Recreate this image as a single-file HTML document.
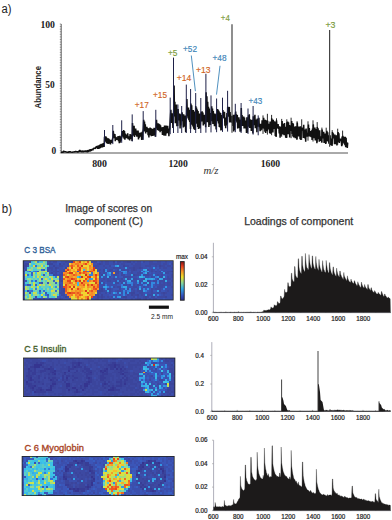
<!DOCTYPE html>
<html><head><meta charset="utf-8"><style>
html,body{margin:0;padding:0;background:#fff;width:392px;height:520px;overflow:hidden}
svg{display:block}
</style></head><body>
<svg width="392" height="520" viewBox="0 0 392 520">
<text x="1.5" y="13" font-size="12.5" fill="#222" font-family='"Liberation Sans", sans-serif' font-weight="normal" text-anchor="start" textLength="10" lengthAdjust="spacingAndGlyphs" >a)</text>
<line x1="61.2" y1="24" x2="61.2" y2="153" stroke="#333" stroke-width="0.8"/>
<path d="M59.8 24.00h1.4M59.8 26.58h1.4M59.8 29.16h1.4M59.8 31.74h1.4M59.8 34.32h1.4M59.8 36.90h1.4M59.8 39.48h1.4M59.8 42.06h1.4M59.8 44.64h1.4M59.8 47.22h1.4M59.8 49.80h1.4M59.8 52.38h1.4M59.8 54.96h1.4M59.8 57.54h1.4M59.8 60.12h1.4M59.8 62.70h1.4M59.8 65.28h1.4M59.8 67.86h1.4M59.8 70.44h1.4M59.8 73.02h1.4M59.8 75.60h1.4M59.8 78.18h1.4M59.8 80.76h1.4M59.8 83.34h1.4M59.8 85.92h1.4M59.8 88.50h1.4M59.8 91.08h1.4M59.8 93.66h1.4M59.8 96.24h1.4M59.8 98.82h1.4M59.8 101.40h1.4M59.8 103.98h1.4M59.8 106.56h1.4M59.8 109.14h1.4M59.8 111.72h1.4M59.8 114.30h1.4M59.8 116.88h1.4M59.8 119.46h1.4M59.8 122.04h1.4M59.8 124.62h1.4M59.8 127.20h1.4M59.8 129.78h1.4M59.8 132.36h1.4M59.8 134.94h1.4M59.8 137.52h1.4M59.8 140.10h1.4M59.8 142.68h1.4M59.8 145.26h1.4M59.8 147.84h1.4M59.8 150.42h1.4M59.8 153.00h1.4" stroke="#555" stroke-width="0.6"/>
<line x1="61" y1="153" x2="348" y2="153" stroke="#555" stroke-width="1"/>
<text x="55" y="28.4" font-size="9.4" fill="#222" font-family='"Liberation Serif", serif' font-weight="bold" text-anchor="end" textLength="14.6" lengthAdjust="spacingAndGlyphs" >100</text>
<text x="54.7" y="87.8" font-size="9.4" fill="#222" font-family='"Liberation Serif", serif' font-weight="bold" text-anchor="end" textLength="9.4" lengthAdjust="spacingAndGlyphs" >50</text>
<text x="56.2" y="153.6" font-size="9.4" fill="#222" font-family='"Liberation Serif", serif' font-weight="bold" text-anchor="end" textLength="4.7" lengthAdjust="spacingAndGlyphs" >0</text>
<text x="99.6" y="167.1" font-size="9.4" fill="#222" font-family='"Liberation Serif", serif' font-weight="bold" text-anchor="middle" textLength="14.8" lengthAdjust="spacingAndGlyphs" >800</text>
<text x="178.1" y="167.1" font-size="9.4" fill="#222" font-family='"Liberation Serif", serif' font-weight="bold" text-anchor="middle" textLength="19.4" lengthAdjust="spacingAndGlyphs" >1200</text>
<text x="270.4" y="167.1" font-size="9.4" fill="#222" font-family='"Liberation Serif", serif' font-weight="bold" text-anchor="middle" textLength="19.4" lengthAdjust="spacingAndGlyphs" >1600</text>
<text x="203.5" y="173.6" font-size="9.5" fill="#333" font-family='"Liberation Serif", serif' font-weight="normal" text-anchor="start" textLength="15" lengthAdjust="spacingAndGlyphs" font-style="italic">m/z</text>
<text x="0" y="0" font-size="9.6" fill="#222" font-family='"Liberation Sans", sans-serif' font-weight="bold" textLength="42.5" lengthAdjust="spacingAndGlyphs" transform="translate(40.6 108.5) rotate(-90)">Abundance</text>
<path d="M61.3 151.6 61.7 152.7 62.1 151.9 62.5 152.6 62.9 151.6 63.3 152.5 63.7 150.7 64.1 152.1 64.5 151.5 64.9 152.1 65.3 151.3 65.7 152.3 66.1 151.6 66.5 152.1 66.9 151.8 67.3 152.6 67.7 152.0 68.1 152.7 68.5 151.5 68.9 152.3 69.3 151.4 69.7 152.5 70.1 151.3 70.5 152.3 70.9 151.8 71.3 152.4 71.7 151.8 72.1 152.6 72.5 151.7 72.9 152.3 73.3 151.5 73.7 152.4 74.1 151.8 74.5 152.0 74.9 151.4 75.3 152.2 75.7 151.1 76.1 152.2 76.5 151.5 76.9 151.9 77.3 151.7 77.7 152.5 78.1 151.2 78.5 152.2 78.9 151.0 79.3 151.1 79.7 150.0 80.1 152.0 80.5 150.5 80.9 151.7 81.3 150.7 81.7 152.3 82.1 150.9 82.5 151.7 82.9 150.6 83.3 152.2 83.7 150.9 84.1 151.6 84.5 151.2 84.9 151.6 85.3 150.5 85.7 152.1 86.1 150.5 86.5 151.5 86.9 151.2 87.3 152.3 87.7 150.1 88.1 152.1 88.5 149.9 88.9 151.7 89.3 150.0 89.7 151.7 90.1 149.1 90.5 151.3 90.9 149.1 91.3 150.8 91.7 149.8 92.1 150.4 92.5 148.6 92.9 150.3 93.3 148.6 93.7 148.6 94.1 147.9 94.5 148.7 94.9 148.1 95.3 148.8 95.7 147.0 96.1 147.8 96.5 146.2 96.9 148.1 97.3 145.9 97.7 149.0 98.1 145.6 98.5 148.8 98.9 145.4 99.3 148.7 99.7 144.7 100.1 148.3 100.5 144.3 100.9 147.7 101.3 143.9 101.7 146.1 102.1 144.5 102.5 147.4 102.9 143.3 103.3 146.8 103.7 143.1 104.1 146.9 104.5 136.8 104.9 138.4 105.3 136.4 105.7 141.7 106.1 136.6 106.5 143.3 106.9 137.9 107.3 143.4 107.7 140.2 108.1 143.9 108.5 138.3 108.9 140.8 109.3 139.4 109.7 143.8 110.1 139.7 110.5 144.4 110.9 139.8 111.3 141.7 111.7 141.0 112.1 142.8 112.5 139.0 112.9 137.8 113.3 130.8 113.7 137.1 114.1 133.7 114.5 138.1 114.9 134.1 115.3 141.1 115.7 137.0 116.1 138.4 116.5 137.8 116.9 139.8 117.3 137.3 117.7 139.5 118.1 136.0 118.5 141.2 118.9 136.6 119.3 143.1 119.7 135.9 120.1 142.6 120.5 136.5 120.9 141.2 121.3 139.4 121.7 134.6 122.1 131.1 122.5 132.5 122.9 132.7 123.3 137.5 123.7 130.0 124.1 138.8 124.5 131.0 124.9 139.6 125.3 133.7 125.7 136.8 126.1 134.5 126.5 138.2 126.9 134.7 127.3 138.0 127.7 133.2 128.1 139.3 128.5 136.9 128.9 138.8 129.3 136.2 129.7 140.4 130.1 134.0 130.5 139.0 130.9 134.6 131.3 139.0 131.7 137.7 132.1 140.9 132.5 123.1 132.9 129.3 133.3 127.4 133.7 135.8 134.1 125.8 134.5 136.9 134.9 131.6 135.3 134.3 135.7 128.5 136.1 134.9 136.5 133.9 136.9 136.6 137.3 130.5 137.7 136.4 138.1 130.5 138.5 139.4 138.9 135.1 139.3 137.7 139.7 132.8 140.1 136.2 140.5 132.5 140.9 136.6 141.3 134.7 141.7 139.9 142.1 131.9 142.5 139.6 142.9 131.8 143.3 128.5 143.7 119.9 144.1 131.4 144.5 121.6 144.9 129.1 145.3 124.2 145.7 133.5 146.1 126.9 146.5 131.3 146.9 126.9 147.3 131.9 147.7 128.1 148.1 135.1 148.5 128.8 148.9 137.4 149.3 128.3 149.7 135.2 150.1 127.6 150.5 133.7 150.9 128.1 151.3 136.1 151.7 130.9 152.1 135.8 152.5 128.7 152.9 135.9 153.3 129.8 153.7 134.2 154.1 127.7 154.5 135.5 154.9 128.0 155.3 136.8 155.7 130.8 156.1 126.6 156.5 119.9 156.9 126.4 157.3 124.4 157.7 130.0 158.1 123.4 158.5 130.7 158.9 123.9 159.3 130.4 159.7 124.4 160.1 132.1 160.5 125.3 160.9 129.8 161.3 127.3 161.7 130.8 162.1 129.5 162.5 134.9 162.9 127.1 163.3 130.9 163.7 129.3 164.1 135.8 164.5 125.5 164.9 134.7 165.3 125.5 165.7 135.8 166.1 125.6 166.5 133.5 166.9 129.4 167.3 131.9 167.7 125.9 168.1 133.3 168.5 128.6 168.9 136.3 169.3 129.2 169.7 129.4 170.1 121.6 170.5 115.2 170.9 109.7 171.3 123.0 171.7 118.8 172.1 122.2 172.5 113.2 172.9 127.9 173.3 117.2 173.7 110.1 174.1 85.6 174.5 116.5 174.9 101.8 175.3 123.2 175.7 104.8 176.1 122.7 176.5 104.4 176.9 126.2 177.3 113.0 177.7 126.1 178.1 109.1 178.5 117.6 178.9 116.7 179.3 120.4 179.7 113.5 180.1 128.6 180.5 114.2 180.9 125.4 181.3 116.0 181.7 121.2 182.1 112.3 182.5 119.5 182.9 117.9 183.3 127.4 183.7 114.3 184.1 123.2 184.5 118.2 184.9 126.6 185.3 115.5 185.7 132.2 186.1 120.5 186.5 115.3 186.9 99.1 187.3 113.0 187.7 108.9 188.1 118.5 188.5 107.4 188.9 120.3 189.3 109.8 189.7 122.0 190.1 114.4 190.5 129.0 190.9 103.5 191.3 112.9 191.7 105.3 192.1 124.7 192.5 111.0 192.9 126.5 193.3 110.1 193.7 128.7 194.1 111.6 194.5 129.8 194.9 114.4 195.3 130.0 195.7 106.1 196.1 119.5 196.5 107.6 196.9 123.8 197.3 109.4 197.7 127.1 198.1 111.0 198.5 129.0 198.9 117.3 199.3 126.6 199.7 113.5 200.1 128.4 200.5 121.8 200.9 119.9 201.3 111.8 201.7 121.5 202.1 111.4 202.5 120.1 202.9 112.6 203.3 125.4 203.7 116.9 204.1 121.5 204.5 114.8 204.9 124.3 205.3 119.0 205.7 127.2 206.1 92.2 206.5 116.0 206.9 96.2 207.3 122.2 207.7 101.7 208.1 118.6 208.5 106.7 208.9 127.1 209.3 108.4 209.7 121.6 210.1 118.2 210.5 125.1 210.9 113.1 211.3 119.3 211.7 106.3 212.1 121.2 212.5 108.4 212.9 123.9 213.3 111.1 213.7 120.0 214.1 119.9 214.5 126.1 214.9 113.6 215.3 122.2 215.7 114.9 216.1 129.4 216.5 113.9 216.9 118.9 217.3 109.1 217.7 121.2 218.1 109.6 218.5 123.5 218.9 110.7 219.3 127.1 219.7 112.2 220.1 127.4 220.5 112.9 220.9 130.4 221.3 114.9 221.7 130.1 222.1 117.9 222.5 115.7 222.9 110.0 223.3 118.3 223.7 112.6 224.1 118.5 224.5 111.7 224.9 125.8 225.3 119.5 225.7 128.3 226.1 117.5 226.5 125.4 226.9 113.1 227.3 124.0 227.7 106.8 228.1 115.3 228.5 109.1 228.9 116.7 229.3 106.9 229.7 122.4 230.1 112.0 230.5 120.9 230.9 117.1 231.3 122.5 231.7 115.9 232.1 122.8 232.5 118.0 232.9 126.0 233.3 114.7 233.7 131.6 234.1 114.8 234.5 130.2 234.9 115.2 235.3 115.4 235.7 111.5 236.1 120.5 236.5 114.4 236.9 122.4 237.3 114.9 237.7 128.6 238.1 119.1 238.5 124.8 238.9 117.3 239.3 127.9 239.7 119.5 240.1 131.8 240.5 120.9 240.9 131.5 241.3 108.1 241.7 122.8 242.1 115.1 242.5 126.0 242.9 117.3 243.3 121.3 243.7 116.5 244.1 128.5 244.5 117.5 244.9 127.0 245.3 121.2 245.7 128.5 246.1 120.6 246.5 133.0 246.9 117.3 247.3 132.6 247.7 122.6 248.1 122.4 248.5 115.3 248.9 126.6 249.3 114.3 249.7 128.0 250.1 119.4 250.5 126.5 250.9 120.5 251.3 130.9 251.7 119.9 252.1 130.6 252.5 120.1 252.9 133.5 253.3 116.2 253.7 125.1 254.1 119.8 254.5 121.9 254.9 114.7 255.3 128.3 255.7 121.7 256.1 124.7 256.5 119.4 256.9 132.2 257.3 118.6 257.7 126.8 258.1 119.2 258.5 124.6 258.9 117.8 259.3 127.2 259.7 123.9 260.1 131.1 260.5 123.8 260.9 130.4 261.3 125.2 261.7 129.7 262.1 120.3 262.5 128.4 262.9 122.4 263.3 127.5 263.7 117.9 264.1 128.6 264.5 120.8 264.9 131.8 265.3 119.8 265.7 133.0 266.1 121.2 266.5 129.6 266.9 120.2 267.3 131.1 267.7 120.9 268.1 129.4 268.5 123.9 268.9 128.3 269.3 125.2 269.7 133.2 270.1 121.5 270.5 133.7 270.9 128.2 271.3 132.9 271.7 118.2 272.1 127.9 272.5 119.4 272.9 132.5 273.3 119.7 273.7 129.0 274.1 121.3 274.5 128.9 274.9 121.6 275.3 135.9 275.7 124.0 276.1 137.0 276.5 120.3 276.9 125.3 277.3 125.0 277.7 128.5 278.1 124.1 278.5 129.0 278.9 127.9 279.3 133.5 279.7 126.3 280.1 137.6 280.5 126.8 280.9 135.9 281.3 127.4 281.7 134.5 282.1 121.1 282.5 132.1 282.9 126.6 283.3 134.5 283.7 123.8 284.1 135.1 284.5 123.1 284.9 132.8 285.3 130.0 285.7 137.7 286.1 126.8 286.5 138.0 286.9 122.3 287.3 130.3 287.7 121.6 288.1 134.2 288.5 122.4 288.9 130.4 289.3 124.9 289.7 137.4 290.1 129.5 290.5 131.0 290.9 125.4 291.3 130.5 291.7 121.1 292.1 134.1 292.5 123.1 292.9 136.5 293.3 123.4 293.7 137.4 294.1 126.5 294.5 132.8 294.9 129.0 295.3 138.2 295.7 126.3 296.1 137.8 296.5 126.4 296.9 139.7 297.3 122.6 297.7 133.1 298.1 129.2 298.5 136.5 298.9 126.6 299.3 135.1 299.7 130.6 300.1 139.3 300.5 126.3 300.9 140.0 301.3 127.6 301.7 130.0 302.1 127.6 302.5 130.6 302.9 129.1 303.3 137.9 303.7 124.8 304.1 135.4 304.5 131.9 304.9 138.5 305.3 129.6 305.7 141.8 306.1 128.6 306.5 135.5 306.9 132.9 307.3 136.7 307.7 134.9 308.1 132.6 308.5 124.5 308.9 136.4 309.3 128.0 309.7 135.5 310.1 132.8 310.5 136.6 310.9 131.1 311.3 137.3 311.7 130.2 312.1 139.9 312.5 128.5 312.9 138.3 313.3 124.4 313.7 131.4 314.1 128.9 314.5 138.3 314.9 127.4 315.3 140.4 315.7 131.6 316.1 138.5 316.5 129.1 316.9 143.3 317.3 126.9 317.7 134.7 318.1 128.3 318.5 139.3 318.9 131.2 319.3 141.8 319.7 130.3 320.1 141.0 320.5 136.4 320.9 140.4 321.3 136.3 321.7 142.4 322.1 129.6 322.5 138.4 322.9 134.9 323.3 138.1 323.7 131.7 324.1 143.0 324.5 133.5 324.9 140.6 325.3 133.5 325.7 144.0 326.1 135.7 326.5 134.6 326.9 130.9 327.3 141.2 327.7 132.4 328.1 141.5 328.5 135.3 328.9 143.8 329.3 136.9 329.7 141.3 330.1 135.3 330.5 145.2 330.9 139.5 331.3 145.2 331.7 138.5 332.1 145.9 332.5 132.1 332.9 138.2 333.3 133.4 333.7 138.5 334.1 135.3 334.5 144.2 334.9 134.6 335.3 144.1 335.7 137.6 336.1 141.0 336.5 135.2 336.9 145.4 337.3 135.8 337.7 135.2 338.1 132.0 338.5 142.1 338.9 133.3 339.3 142.9 339.7 138.8 340.1 141.0 340.5 138.5 340.9 140.9 341.3 140.7 341.7 146.1 342.1 136.6 342.5 142.5 342.9 135.8 343.3 142.7 343.7 137.0 344.1 143.6 344.5 136.7 344.9 145.2 345.3 136.7 345.7 147.1 346.1 137.7 346.5 146.7 346.9 142.4 347.3 148.0 347.7 142.7" fill="none" stroke="#111" stroke-width="1.5" stroke-linejoin="bevel"/>
<path d="M104.5 145.9V130M112.8 144.1V125M121.7 142.8V120.3M132.2 141.5V114.4M143.2 139.9V111.1M155.8 136.9V109.8M170.2 134.2V97.6M173.5 133.0V57.6M177.9 133.0V104.5M181.7 133.0V106M186.3 133.0V84.6M190.6 133.0V89M195.7 133.0V93M200.8 133.0V98M205.9 132.7V73.8M211 132.4V95.4M216.6 132.2V98.5M222.5 131.9V97.7M227.6 131.6V90.8M235.3 132.2V103.8M241.1 133.0V103M248 133.9V108.5M253.1 134.6V106M258.2 135.3V115.4" stroke="#1e2048" stroke-width="1"/>
<path d="M263.0 133.9V115.4M267.4 134.6V113.8M271.6 135.2V114.9M276.5 136.0V118.3M281.7 136.8V118.9M286.8 137.5V119.3M291.1 138.2V117.7M297.1 139.1V121.2M301.7 139.8V119.3M308.0 140.7V121.3M313.0 141.5V120.3M317.2 142.1V122.1M321.9 142.7V127.6M326.2 143.3V127.7M332.2 144.1V130.1M337.7 144.8V128.7M342.6 145.4V130.6" stroke="#111" stroke-width="0.9"/>
<line x1="232.0" y1="24.2" x2="232.0" y2="132.76666666666668" stroke="#444" stroke-width="1.2"/>
<line x1="329.6" y1="29.9" x2="329.6" y2="146.74444444444444" stroke="#444" stroke-width="1.2"/>
<text x="220.8" y="21.4" font-size="8.5" fill="#7a9a3a" font-family='"Liberation Sans", sans-serif' font-weight="normal" text-anchor="start" textLength="9" lengthAdjust="spacingAndGlyphs" stroke="#7a9a3a" stroke-width="0.15" >+4</text>
<text x="325.5" y="28.4" font-size="8.5" fill="#7a9a3a" font-family='"Liberation Sans", sans-serif' font-weight="normal" text-anchor="start" textLength="10" lengthAdjust="spacingAndGlyphs" stroke="#7a9a3a" stroke-width="0.15" >+3</text>
<text x="168" y="55.5" font-size="8.5" fill="#7a9a3a" font-family='"Liberation Sans", sans-serif' font-weight="normal" text-anchor="start" textLength="9.5" lengthAdjust="spacingAndGlyphs" stroke="#7a9a3a" stroke-width="0.15" >+5</text>
<text x="183" y="51.7" font-size="8.5" fill="#3c84b8" font-family='"Liberation Sans", sans-serif' font-weight="normal" text-anchor="start" textLength="14" lengthAdjust="spacingAndGlyphs" stroke="#3c84b8" stroke-width="0.15" >+52</text>
<text x="212.5" y="61" font-size="8.5" fill="#3c84b8" font-family='"Liberation Sans", sans-serif' font-weight="normal" text-anchor="start" textLength="14" lengthAdjust="spacingAndGlyphs" stroke="#3c84b8" stroke-width="0.15" >+48</text>
<text x="248.5" y="103.8" font-size="8.5" fill="#3c84b8" font-family='"Liberation Sans", sans-serif' font-weight="normal" text-anchor="start" textLength="13.7" lengthAdjust="spacingAndGlyphs" stroke="#3c84b8" stroke-width="0.15" >+43</text>
<text x="176.8" y="80.5" font-size="8.5" fill="#d0641e" font-family='"Liberation Sans", sans-serif' font-weight="normal" text-anchor="start" textLength="14.5" lengthAdjust="spacingAndGlyphs" stroke="#d0641e" stroke-width="0.15" >+14</text>
<text x="196" y="72.9" font-size="8.5" fill="#d0641e" font-family='"Liberation Sans", sans-serif' font-weight="normal" text-anchor="start" textLength="14.5" lengthAdjust="spacingAndGlyphs" stroke="#d0641e" stroke-width="0.15" >+13</text>
<text x="153" y="98" font-size="8.5" fill="#d0641e" font-family='"Liberation Sans", sans-serif' font-weight="normal" text-anchor="start" textLength="14" lengthAdjust="spacingAndGlyphs" stroke="#d0641e" stroke-width="0.15" >+15</text>
<text x="134.8" y="108" font-size="8.5" fill="#d0641e" font-family='"Liberation Sans", sans-serif' font-weight="normal" text-anchor="start" textLength="14" lengthAdjust="spacingAndGlyphs" stroke="#d0641e" stroke-width="0.15" >+17</text>
<line x1="191.3" y1="55.5" x2="195.4" y2="91.2" stroke="#3c84b8" stroke-width="0.9"/>
<line x1="220" y1="65.8" x2="216.5" y2="94.6" stroke="#3c84b8" stroke-width="0.9"/>
<defs><filter id="bl" x="-2%" y="-5%" width="104%" height="110%"><feGaussianBlur stdDeviation="0.6"/></filter></defs>
<text x="1.8" y="213" font-size="12.5" fill="#222" font-family='"Liberation Sans", sans-serif' font-weight="normal" text-anchor="start" textLength="10.2" lengthAdjust="spacingAndGlyphs" >b)</text>
<text x="65.2" y="212.1" font-size="10.2" fill="#333" font-family='"Liberation Sans", sans-serif' font-weight="normal" text-anchor="start" textLength="87" lengthAdjust="spacingAndGlyphs" stroke="#333" stroke-width="0.25" >Image of scores on</text>
<text x="74.6" y="225" font-size="10.2" fill="#333" font-family='"Liberation Sans", sans-serif' font-weight="normal" text-anchor="start" textLength="68.3" lengthAdjust="spacingAndGlyphs" stroke="#333" stroke-width="0.25" >component (C)</text>
<text x="244.2" y="224.6" font-size="10.2" fill="#333" font-family='"Liberation Sans", sans-serif' font-weight="normal" text-anchor="start" textLength="109" lengthAdjust="spacingAndGlyphs" stroke="#333" stroke-width="0.25" >Loadings of component</text>
<text x="24.2" y="252.9" font-size="9.6" fill="#2f5f98" font-family='"Liberation Sans", sans-serif' font-weight="normal" text-anchor="start" textLength="31.4" lengthAdjust="spacingAndGlyphs" stroke="#2f5f98" stroke-width="0.35" >C 3 BSA</text>
<text x="24.2" y="351.8" font-size="9.8" fill="#46602c" font-family='"Liberation Sans", sans-serif' font-weight="normal" text-anchor="start" textLength="42.2" lengthAdjust="spacingAndGlyphs" stroke="#46602c" stroke-width="0.35" >C 5 Insulin</text>
<text x="24.5" y="450.9" font-size="9.8" fill="#a8431f" font-family='"Liberation Sans", sans-serif' font-weight="normal" text-anchor="start" textLength="59.4" lengthAdjust="spacingAndGlyphs" stroke="#a8431f" stroke-width="0.35" >C 6 Myoglobin</text>
<g filter="url(#bl)"><g transform="translate(23.2 260.7) scale(2.0000 1.9650)" shape-rendering="crispEdges"><path fill="rgb(58, 68, 156)" d="M24 0h1v1h-1zM45 0h1v1h-1zM52 0h1v1h-1zM53 0h1v1h-1zM1 1h1v1h-1zM2 1h1v1h-1zM13 1h1v1h-1zM14 1h1v1h-1zM18 1h1v1h-1zM38 1h1v1h-1zM0 2h1v1h-1zM1 2h1v1h-1zM15 2h1v1h-1zM50 2h1v1h-1zM68 2h1v1h-1zM0 3h1v1h-1zM16 3h1v1h-1zM21 3h1v1h-1zM55 3h1v1h-1zM58 3h1v1h-1zM40 4h1v1h-1zM55 4h1v1h-1zM17 5h1v1h-1zM40 5h1v1h-1zM74 5h1v1h-1zM14 6h1v1h-1zM15 7h1v1h-1zM39 7h1v1h-1zM55 7h1v1h-1zM19 10h1v1h-1zM38 11h1v1h-1zM20 14h1v1h-1zM39 14h1v1h-1zM20 15h1v1h-1zM38 15h1v1h-1zM39 15h1v1h-1zM54 16h1v1h-1zM55 16h1v1h-1zM70 16h1v1h-1zM37 17h1v1h-1zM39 17h1v1h-1zM54 17h1v1h-1zM57 17h1v1h-1zM21 18h1v1h-1zM37 18h1v1h-1zM39 18h1v1h-1zM50 18h1v1h-1zM51 18h1v1h-1zM61 18h1v1h-1zM71 18h1v1h-1zM10 19h1v1h-1zM16 19h1v1h-1zM18 19h1v1h-1zM37 19h1v1h-1zM57 19h1v1h-1zM58 19h1v1h-1zM61 19h1v1h-1z"/><path fill="rgb(60, 74, 162)" d="M0 0h1v1h-1zM3 0h1v1h-1zM13 0h1v1h-1zM15 0h1v1h-1zM16 0h1v1h-1zM21 0h1v1h-1zM22 0h1v1h-1zM23 0h1v1h-1zM34 0h1v1h-1zM35 0h1v1h-1zM36 0h1v1h-1zM39 0h1v1h-1zM41 0h1v1h-1zM42 0h1v1h-1zM47 0h1v1h-1zM48 0h1v1h-1zM50 0h1v1h-1zM51 0h1v1h-1zM55 0h1v1h-1zM57 0h1v1h-1zM58 0h1v1h-1zM60 0h1v1h-1zM63 0h1v1h-1zM64 0h1v1h-1zM67 0h1v1h-1zM68 0h1v1h-1zM71 0h1v1h-1zM0 1h1v1h-1zM12 1h1v1h-1zM20 1h1v1h-1zM22 1h1v1h-1zM37 1h1v1h-1zM39 1h1v1h-1zM41 1h1v1h-1zM42 1h1v1h-1zM45 1h1v1h-1zM47 1h1v1h-1zM49 1h1v1h-1zM50 1h1v1h-1zM54 1h1v1h-1zM56 1h1v1h-1zM57 1h1v1h-1zM58 1h1v1h-1zM63 1h1v1h-1zM64 1h1v1h-1zM65 1h1v1h-1zM66 1h1v1h-1zM67 1h1v1h-1zM68 1h1v1h-1zM70 1h1v1h-1zM71 1h1v1h-1zM74 1h1v1h-1zM18 2h1v1h-1zM19 2h1v1h-1zM22 2h1v1h-1zM35 2h1v1h-1zM36 2h1v1h-1zM37 2h1v1h-1zM40 2h1v1h-1zM43 2h1v1h-1zM51 2h1v1h-1zM52 2h1v1h-1zM55 2h1v1h-1zM56 2h1v1h-1zM57 2h1v1h-1zM58 2h1v1h-1zM61 2h1v1h-1zM62 2h1v1h-1zM63 2h1v1h-1zM66 2h1v1h-1zM69 2h1v1h-1zM70 2h1v1h-1zM72 2h1v1h-1zM73 2h1v1h-1zM13 3h1v1h-1zM14 3h1v1h-1zM17 3h1v1h-1zM36 3h1v1h-1zM41 3h1v1h-1zM45 3h1v1h-1zM46 3h1v1h-1zM47 3h1v1h-1zM48 3h1v1h-1zM53 3h1v1h-1zM54 3h1v1h-1zM56 3h1v1h-1zM57 3h1v1h-1zM59 3h1v1h-1zM68 3h1v1h-1zM70 3h1v1h-1zM71 3h1v1h-1zM74 3h1v1h-1zM1 4h1v1h-1zM12 4h1v1h-1zM14 4h1v1h-1zM16 4h1v1h-1zM20 4h1v1h-1zM38 4h1v1h-1zM43 4h1v1h-1zM44 4h1v1h-1zM47 4h1v1h-1zM49 4h1v1h-1zM50 4h1v1h-1zM52 4h1v1h-1zM54 4h1v1h-1zM56 4h1v1h-1zM62 4h1v1h-1zM64 4h1v1h-1zM0 5h1v1h-1zM12 5h1v1h-1zM15 5h1v1h-1zM16 5h1v1h-1zM20 5h1v1h-1zM42 5h1v1h-1zM43 5h1v1h-1zM45 5h1v1h-1zM46 5h1v1h-1zM47 5h1v1h-1zM52 5h1v1h-1zM54 5h1v1h-1zM58 5h1v1h-1zM64 5h1v1h-1zM66 5h1v1h-1zM68 5h1v1h-1zM72 5h1v1h-1zM73 5h1v1h-1zM16 6h1v1h-1zM19 6h1v1h-1zM38 6h1v1h-1zM40 6h1v1h-1zM46 6h1v1h-1zM47 6h1v1h-1zM49 6h1v1h-1zM54 6h1v1h-1zM57 6h1v1h-1zM58 6h1v1h-1zM62 6h1v1h-1zM71 6h1v1h-1zM72 6h1v1h-1zM16 7h1v1h-1zM18 7h1v1h-1zM19 7h1v1h-1zM45 7h1v1h-1zM46 7h1v1h-1zM49 7h1v1h-1zM50 7h1v1h-1zM56 7h1v1h-1zM57 7h1v1h-1zM60 7h1v1h-1zM61 7h1v1h-1zM62 7h1v1h-1zM67 7h1v1h-1zM69 7h1v1h-1zM74 7h1v1h-1zM0 8h1v1h-1zM18 8h1v1h-1zM38 8h1v1h-1zM43 8h1v1h-1zM50 8h1v1h-1zM51 8h1v1h-1zM52 8h1v1h-1zM53 8h1v1h-1zM64 8h1v1h-1zM68 8h1v1h-1zM69 8h1v1h-1zM72 8h1v1h-1zM74 8h1v1h-1zM0 9h1v1h-1zM18 9h1v1h-1zM40 9h1v1h-1zM42 9h1v1h-1zM45 9h1v1h-1zM49 9h1v1h-1zM52 9h1v1h-1zM55 9h1v1h-1zM56 9h1v1h-1zM60 9h1v1h-1zM67 9h1v1h-1zM70 9h1v1h-1zM72 9h1v1h-1zM73 9h1v1h-1zM0 10h1v1h-1zM18 10h1v1h-1zM39 10h1v1h-1zM42 10h1v1h-1zM43 10h1v1h-1zM46 10h1v1h-1zM48 10h1v1h-1zM50 10h1v1h-1zM58 10h1v1h-1zM62 10h1v1h-1zM63 10h1v1h-1zM65 10h1v1h-1zM66 10h1v1h-1zM68 10h1v1h-1zM69 10h1v1h-1zM70 10h1v1h-1zM74 10h1v1h-1zM40 11h1v1h-1zM46 11h1v1h-1zM47 11h1v1h-1zM49 11h1v1h-1zM58 11h1v1h-1zM60 11h1v1h-1zM63 11h1v1h-1zM68 11h1v1h-1zM70 11h1v1h-1zM72 11h1v1h-1zM73 11h1v1h-1zM18 12h1v1h-1zM40 12h1v1h-1zM50 12h1v1h-1zM51 12h1v1h-1zM53 12h1v1h-1zM55 12h1v1h-1zM57 12h1v1h-1zM62 12h1v1h-1zM68 12h1v1h-1zM69 12h1v1h-1zM70 12h1v1h-1zM72 12h1v1h-1zM73 12h1v1h-1zM18 13h1v1h-1zM45 13h1v1h-1zM47 13h1v1h-1zM48 13h1v1h-1zM55 13h1v1h-1zM56 13h1v1h-1zM60 13h1v1h-1zM67 13h1v1h-1zM68 13h1v1h-1zM69 13h1v1h-1zM74 13h1v1h-1zM0 14h1v1h-1zM19 14h1v1h-1zM38 14h1v1h-1zM42 14h1v1h-1zM43 14h1v1h-1zM48 14h1v1h-1zM52 14h1v1h-1zM54 14h1v1h-1zM57 14h1v1h-1zM64 14h1v1h-1zM66 14h1v1h-1zM67 14h1v1h-1zM68 14h1v1h-1zM0 15h1v1h-1zM19 15h1v1h-1zM37 15h1v1h-1zM40 15h1v1h-1zM43 15h1v1h-1zM47 15h1v1h-1zM48 15h1v1h-1zM55 15h1v1h-1zM57 15h1v1h-1zM58 15h1v1h-1zM59 15h1v1h-1zM64 15h1v1h-1zM68 15h1v1h-1zM72 15h1v1h-1zM0 16h1v1h-1zM18 16h1v1h-1zM19 16h1v1h-1zM20 16h1v1h-1zM37 16h1v1h-1zM38 16h1v1h-1zM41 16h1v1h-1zM43 16h1v1h-1zM51 16h1v1h-1zM53 16h1v1h-1zM58 16h1v1h-1zM59 16h1v1h-1zM64 16h1v1h-1zM67 16h1v1h-1zM69 16h1v1h-1zM71 16h1v1h-1zM0 17h1v1h-1zM19 17h1v1h-1zM20 17h1v1h-1zM36 17h1v1h-1zM52 17h1v1h-1zM55 17h1v1h-1zM56 17h1v1h-1zM59 17h1v1h-1zM62 17h1v1h-1zM63 17h1v1h-1zM64 17h1v1h-1zM70 17h1v1h-1zM74 17h1v1h-1zM22 18h1v1h-1zM38 18h1v1h-1zM40 18h1v1h-1zM42 18h1v1h-1zM44 18h1v1h-1zM49 18h1v1h-1zM55 18h1v1h-1zM57 18h1v1h-1zM60 18h1v1h-1zM62 18h1v1h-1zM64 18h1v1h-1zM65 18h1v1h-1zM67 18h1v1h-1zM68 18h1v1h-1zM69 18h1v1h-1zM70 18h1v1h-1zM0 19h1v1h-1zM8 19h1v1h-1zM13 19h1v1h-1zM14 19h1v1h-1zM17 19h1v1h-1zM19 19h1v1h-1zM23 19h1v1h-1zM36 19h1v1h-1zM39 19h1v1h-1zM43 19h1v1h-1zM45 19h1v1h-1zM47 19h1v1h-1zM51 19h1v1h-1zM54 19h1v1h-1zM56 19h1v1h-1zM60 19h1v1h-1zM63 19h1v1h-1zM65 19h1v1h-1zM66 19h1v1h-1z"/><path fill="rgb(59, 80, 173)" d="M1 0h1v1h-1zM2 0h1v1h-1zM12 0h1v1h-1zM14 0h1v1h-1zM19 0h1v1h-1zM20 0h1v1h-1zM38 0h1v1h-1zM40 0h1v1h-1zM43 0h1v1h-1zM44 0h1v1h-1zM49 0h1v1h-1zM54 0h1v1h-1zM56 0h1v1h-1zM61 0h1v1h-1zM62 0h1v1h-1zM65 0h1v1h-1zM66 0h1v1h-1zM69 0h1v1h-1zM70 0h1v1h-1zM72 0h1v1h-1zM73 0h1v1h-1zM74 0h1v1h-1zM15 1h1v1h-1zM16 1h1v1h-1zM19 1h1v1h-1zM21 1h1v1h-1zM35 1h1v1h-1zM36 1h1v1h-1zM40 1h1v1h-1zM43 1h1v1h-1zM44 1h1v1h-1zM46 1h1v1h-1zM48 1h1v1h-1zM51 1h1v1h-1zM52 1h1v1h-1zM53 1h1v1h-1zM55 1h1v1h-1zM59 1h1v1h-1zM60 1h1v1h-1zM61 1h1v1h-1zM62 1h1v1h-1zM69 1h1v1h-1zM72 1h1v1h-1zM2 2h1v1h-1zM13 2h1v1h-1zM14 2h1v1h-1zM16 2h1v1h-1zM17 2h1v1h-1zM20 2h1v1h-1zM21 2h1v1h-1zM38 2h1v1h-1zM39 2h1v1h-1zM41 2h1v1h-1zM42 2h1v1h-1zM48 2h1v1h-1zM49 2h1v1h-1zM53 2h1v1h-1zM54 2h1v1h-1zM59 2h1v1h-1zM60 2h1v1h-1zM64 2h1v1h-1zM65 2h1v1h-1zM67 2h1v1h-1zM71 2h1v1h-1zM74 2h1v1h-1zM1 3h1v1h-1zM12 3h1v1h-1zM15 3h1v1h-1zM18 3h1v1h-1zM19 3h1v1h-1zM37 3h1v1h-1zM38 3h1v1h-1zM39 3h1v1h-1zM40 3h1v1h-1zM42 3h1v1h-1zM43 3h1v1h-1zM44 3h1v1h-1zM49 3h1v1h-1zM50 3h1v1h-1zM52 3h1v1h-1zM60 3h1v1h-1zM61 3h1v1h-1zM63 3h1v1h-1zM64 3h1v1h-1zM66 3h1v1h-1zM69 3h1v1h-1zM72 3h1v1h-1zM73 3h1v1h-1zM0 4h1v1h-1zM13 4h1v1h-1zM15 4h1v1h-1zM18 4h1v1h-1zM19 4h1v1h-1zM37 4h1v1h-1zM39 4h1v1h-1zM42 4h1v1h-1zM46 4h1v1h-1zM51 4h1v1h-1zM53 4h1v1h-1zM57 4h1v1h-1zM58 4h1v1h-1zM63 4h1v1h-1zM65 4h1v1h-1zM67 4h1v1h-1zM69 4h1v1h-1zM70 4h1v1h-1zM71 4h1v1h-1zM72 4h1v1h-1zM73 4h1v1h-1zM74 4h1v1h-1zM13 5h1v1h-1zM14 5h1v1h-1zM18 5h1v1h-1zM19 5h1v1h-1zM38 5h1v1h-1zM39 5h1v1h-1zM44 5h1v1h-1zM48 5h1v1h-1zM55 5h1v1h-1zM56 5h1v1h-1zM57 5h1v1h-1zM63 5h1v1h-1zM65 5h1v1h-1zM67 5h1v1h-1zM70 5h1v1h-1zM71 5h1v1h-1zM13 6h1v1h-1zM15 6h1v1h-1zM18 6h1v1h-1zM39 6h1v1h-1zM41 6h1v1h-1zM44 6h1v1h-1zM52 6h1v1h-1zM53 6h1v1h-1zM55 6h1v1h-1zM56 6h1v1h-1zM59 6h1v1h-1zM64 6h1v1h-1zM66 6h1v1h-1zM67 6h1v1h-1zM68 6h1v1h-1zM69 6h1v1h-1zM73 6h1v1h-1zM74 6h1v1h-1zM0 7h1v1h-1zM17 7h1v1h-1zM38 7h1v1h-1zM41 7h1v1h-1zM44 7h1v1h-1zM47 7h1v1h-1zM52 7h1v1h-1zM53 7h1v1h-1zM58 7h1v1h-1zM63 7h1v1h-1zM64 7h1v1h-1zM66 7h1v1h-1zM68 7h1v1h-1zM72 7h1v1h-1zM73 7h1v1h-1zM19 8h1v1h-1zM40 8h1v1h-1zM41 8h1v1h-1zM45 8h1v1h-1zM47 8h1v1h-1zM54 8h1v1h-1zM55 8h1v1h-1zM56 8h1v1h-1zM61 8h1v1h-1zM62 8h1v1h-1zM65 8h1v1h-1zM73 8h1v1h-1zM19 9h1v1h-1zM38 9h1v1h-1zM39 9h1v1h-1zM41 9h1v1h-1zM43 9h1v1h-1zM44 9h1v1h-1zM46 9h1v1h-1zM47 9h1v1h-1zM48 9h1v1h-1zM53 9h1v1h-1zM57 9h1v1h-1zM59 9h1v1h-1zM71 9h1v1h-1zM74 9h1v1h-1zM38 10h1v1h-1zM40 10h1v1h-1zM41 10h1v1h-1zM44 10h1v1h-1zM45 10h1v1h-1zM49 10h1v1h-1zM54 10h1v1h-1zM55 10h1v1h-1zM56 10h1v1h-1zM59 10h1v1h-1zM72 10h1v1h-1zM73 10h1v1h-1zM0 11h1v1h-1zM9 11h1v1h-1zM18 11h1v1h-1zM19 11h1v1h-1zM42 11h1v1h-1zM43 11h1v1h-1zM44 11h1v1h-1zM51 11h1v1h-1zM55 11h1v1h-1zM56 11h1v1h-1zM61 11h1v1h-1zM66 11h1v1h-1zM69 11h1v1h-1zM71 11h1v1h-1zM74 11h1v1h-1zM0 12h1v1h-1zM19 12h1v1h-1zM38 12h1v1h-1zM39 12h1v1h-1zM42 12h1v1h-1zM43 12h1v1h-1zM44 12h1v1h-1zM45 12h1v1h-1zM46 12h1v1h-1zM52 12h1v1h-1zM56 12h1v1h-1zM58 12h1v1h-1zM59 12h1v1h-1zM63 12h1v1h-1zM66 12h1v1h-1zM67 12h1v1h-1zM71 12h1v1h-1zM74 12h1v1h-1zM19 13h1v1h-1zM38 13h1v1h-1zM39 13h1v1h-1zM46 13h1v1h-1zM52 13h1v1h-1zM53 13h1v1h-1zM54 13h1v1h-1zM57 13h1v1h-1zM61 13h1v1h-1zM62 13h1v1h-1zM65 13h1v1h-1zM70 13h1v1h-1zM72 13h1v1h-1zM73 13h1v1h-1zM18 14h1v1h-1zM40 14h1v1h-1zM44 14h1v1h-1zM55 14h1v1h-1zM59 14h1v1h-1zM65 14h1v1h-1zM69 14h1v1h-1zM71 14h1v1h-1zM72 14h1v1h-1zM73 14h1v1h-1zM74 14h1v1h-1zM2 15h1v1h-1zM18 15h1v1h-1zM41 15h1v1h-1zM44 15h1v1h-1zM46 15h1v1h-1zM49 15h1v1h-1zM54 15h1v1h-1zM56 15h1v1h-1zM63 15h1v1h-1zM71 15h1v1h-1zM73 15h1v1h-1zM74 15h1v1h-1zM3 16h1v1h-1zM39 16h1v1h-1zM40 16h1v1h-1zM47 16h1v1h-1zM49 16h1v1h-1zM56 16h1v1h-1zM57 16h1v1h-1zM60 16h1v1h-1zM62 16h1v1h-1zM63 16h1v1h-1zM65 16h1v1h-1zM66 16h1v1h-1zM68 16h1v1h-1zM72 16h1v1h-1zM73 16h1v1h-1zM74 16h1v1h-1zM38 17h1v1h-1zM40 17h1v1h-1zM41 17h1v1h-1zM42 17h1v1h-1zM45 17h1v1h-1zM46 17h1v1h-1zM48 17h1v1h-1zM53 17h1v1h-1zM58 17h1v1h-1zM60 17h1v1h-1zM66 17h1v1h-1zM69 17h1v1h-1zM71 17h1v1h-1zM72 17h1v1h-1zM73 17h1v1h-1zM6 18h1v1h-1zM18 18h1v1h-1zM20 18h1v1h-1zM35 18h1v1h-1zM36 18h1v1h-1zM41 18h1v1h-1zM43 18h1v1h-1zM46 18h1v1h-1zM52 18h1v1h-1zM53 18h1v1h-1zM54 18h1v1h-1zM58 18h1v1h-1zM59 18h1v1h-1zM72 18h1v1h-1zM73 18h1v1h-1zM74 18h1v1h-1zM5 19h1v1h-1zM6 19h1v1h-1zM7 19h1v1h-1zM9 19h1v1h-1zM11 19h1v1h-1zM12 19h1v1h-1zM15 19h1v1h-1zM20 19h1v1h-1zM21 19h1v1h-1zM22 19h1v1h-1zM34 19h1v1h-1zM35 19h1v1h-1zM38 19h1v1h-1zM40 19h1v1h-1zM41 19h1v1h-1zM42 19h1v1h-1zM44 19h1v1h-1zM46 19h1v1h-1zM48 19h1v1h-1zM49 19h1v1h-1zM50 19h1v1h-1zM52 19h1v1h-1zM53 19h1v1h-1zM55 19h1v1h-1zM59 19h1v1h-1zM62 19h1v1h-1zM64 19h1v1h-1zM67 19h1v1h-1zM68 19h1v1h-1zM69 19h1v1h-1zM71 19h1v1h-1zM72 19h1v1h-1zM73 19h1v1h-1zM74 19h1v1h-1z"/><path fill="rgb(58, 87, 184)" d="M17 0h1v1h-1zM18 0h1v1h-1zM37 0h1v1h-1zM46 0h1v1h-1zM59 0h1v1h-1zM17 1h1v1h-1zM73 1h1v1h-1zM44 2h1v1h-1zM45 2h1v1h-1zM20 3h1v1h-1zM62 3h1v1h-1zM67 3h1v1h-1zM10 4h1v1h-1zM17 4h1v1h-1zM45 4h1v1h-1zM59 4h1v1h-1zM66 4h1v1h-1zM68 4h1v1h-1zM7 5h1v1h-1zM37 5h1v1h-1zM53 5h1v1h-1zM60 5h1v1h-1zM0 6h1v1h-1zM17 6h1v1h-1zM48 6h1v1h-1zM63 6h1v1h-1zM65 6h1v1h-1zM10 7h1v1h-1zM48 7h1v1h-1zM51 7h1v1h-1zM70 7h1v1h-1zM71 7h1v1h-1zM44 8h1v1h-1zM48 8h1v1h-1zM49 8h1v1h-1zM57 8h1v1h-1zM63 8h1v1h-1zM71 8h1v1h-1zM50 9h1v1h-1zM58 9h1v1h-1zM66 9h1v1h-1zM1 10h1v1h-1zM51 10h1v1h-1zM64 10h1v1h-1zM12 11h1v1h-1zM41 11h1v1h-1zM48 11h1v1h-1zM2 12h1v1h-1zM47 12h1v1h-1zM48 12h1v1h-1zM65 12h1v1h-1zM0 13h1v1h-1zM43 13h1v1h-1zM59 13h1v1h-1zM63 13h1v1h-1zM66 13h1v1h-1zM45 14h1v1h-1zM46 14h1v1h-1zM47 14h1v1h-1zM49 14h1v1h-1zM50 14h1v1h-1zM56 14h1v1h-1zM61 14h1v1h-1zM63 14h1v1h-1zM8 15h1v1h-1zM45 15h1v1h-1zM51 15h1v1h-1zM62 15h1v1h-1zM65 15h1v1h-1zM66 15h1v1h-1zM69 15h1v1h-1zM70 15h1v1h-1zM11 16h1v1h-1zM42 16h1v1h-1zM44 16h1v1h-1zM61 16h1v1h-1zM12 17h1v1h-1zM18 17h1v1h-1zM21 17h1v1h-1zM43 17h1v1h-1zM44 17h1v1h-1zM47 17h1v1h-1zM49 17h1v1h-1zM51 17h1v1h-1zM68 17h1v1h-1zM0 18h1v1h-1zM17 18h1v1h-1zM19 18h1v1h-1zM56 18h1v1h-1zM63 18h1v1h-1zM66 18h1v1h-1zM70 19h1v1h-1z"/><path fill="rgb(56, 94, 194)" d="M4 6h1v1h-1zM6 10h1v1h-1zM8 11h1v1h-1zM16 11h1v1h-1zM3 12h1v1h-1zM6 12h1v1h-1z"/><path fill="rgb(55, 100, 205)" d="M9 4h1v1h-1zM3 5h1v1h-1zM27 5h1v1h-1zM4 7h1v1h-1zM9 9h1v1h-1zM15 10h1v1h-1z"/><path fill="rgb(54, 112, 211)" d="M6 2h1v1h-1zM6 5h1v1h-1zM34 6h1v1h-1zM2 7h1v1h-1zM16 8h1v1h-1zM4 15h1v1h-1zM10 15h1v1h-1zM16 15h1v1h-1zM11 17h1v1h-1zM12 18h1v1h-1z"/><path fill="rgb(52, 125, 218)" d="M5 5h1v1h-1zM32 5h1v1h-1zM49 5h1v1h-1zM51 6h1v1h-1zM13 7h1v1h-1zM14 7h1v1h-1zM34 7h1v1h-1zM42 7h1v1h-1zM66 8h1v1h-1zM4 10h1v1h-1zM67 10h1v1h-1zM54 11h1v1h-1zM41 12h1v1h-1zM49 12h1v1h-1zM54 12h1v1h-1zM60 12h1v1h-1zM42 13h1v1h-1zM44 13h1v1h-1zM6 14h1v1h-1zM70 14h1v1h-1zM3 15h1v1h-1zM52 15h1v1h-1zM61 15h1v1h-1zM8 16h1v1h-1zM46 16h1v1h-1zM67 17h1v1h-1zM9 18h1v1h-1z"/><path fill="rgb(51, 138, 224)" d="M7 0h1v1h-1zM41 4h1v1h-1zM48 4h1v1h-1zM2 5h1v1h-1zM51 5h1v1h-1zM61 5h1v1h-1zM69 5h1v1h-1zM42 6h1v1h-1zM50 6h1v1h-1zM60 6h1v1h-1zM33 7h1v1h-1zM43 7h1v1h-1zM47 10h1v1h-1zM52 11h1v1h-1zM53 11h1v1h-1zM57 11h1v1h-1zM59 11h1v1h-1zM64 11h1v1h-1zM65 11h1v1h-1zM67 11h1v1h-1zM1 12h1v1h-1zM64 12h1v1h-1zM16 13h1v1h-1zM49 13h1v1h-1zM58 13h1v1h-1zM64 13h1v1h-1zM41 14h1v1h-1zM53 14h1v1h-1zM60 14h1v1h-1zM50 15h1v1h-1zM53 15h1v1h-1zM50 16h1v1h-1zM50 17h1v1h-1z"/><path fill="rgb(50, 150, 230)" d="M46 2h1v1h-1zM65 3h1v1h-1zM41 5h1v1h-1zM50 5h1v1h-1zM59 5h1v1h-1zM62 5h1v1h-1zM59 7h1v1h-1zM65 7h1v1h-1zM28 8h1v1h-1zM39 8h1v1h-1zM46 8h1v1h-1zM60 8h1v1h-1zM67 8h1v1h-1zM33 9h1v1h-1zM62 9h1v1h-1zM65 9h1v1h-1zM32 10h1v1h-1zM39 11h1v1h-1zM45 11h1v1h-1zM61 12h1v1h-1zM71 13h1v1h-1zM51 14h1v1h-1zM62 14h1v1h-1zM52 16h1v1h-1zM45 18h1v1h-1zM47 18h1v1h-1z"/><path fill="rgb(52, 161, 230)" d="M51 3h1v1h-1zM60 4h1v1h-1zM70 6h1v1h-1zM54 7h1v1h-1zM34 9h1v1h-1zM54 9h1v1h-1zM63 9h1v1h-1zM69 9h1v1h-1zM52 10h1v1h-1zM50 11h1v1h-1zM40 13h1v1h-1zM60 15h1v1h-1zM67 15h1v1h-1zM45 16h1v1h-1zM48 16h1v1h-1zM61 17h1v1h-1zM48 18h1v1h-1z"/><path fill="rgb(55, 172, 230)" d="M47 2h1v1h-1zM61 4h1v1h-1zM43 6h1v1h-1zM61 6h1v1h-1zM40 7h1v1h-1zM42 8h1v1h-1zM51 9h1v1h-1zM64 9h1v1h-1zM68 9h1v1h-1zM53 10h1v1h-1zM57 10h1v1h-1zM61 10h1v1h-1zM71 10h1v1h-1zM41 13h1v1h-1zM50 13h1v1h-1zM51 13h1v1h-1zM58 14h1v1h-1zM42 15h1v1h-1zM65 17h1v1h-1z"/><path fill="rgb(58, 184, 230)" d="M30 4h1v1h-1zM58 8h1v1h-1zM59 8h1v1h-1zM70 8h1v1h-1zM61 9h1v1h-1zM60 10h1v1h-1zM27 11h1v1h-1zM62 11h1v1h-1zM27 12h1v1h-1z"/><path fill="rgb(60, 195, 230)" d="M4 0h1v1h-1zM8 0h1v1h-1zM9 0h1v1h-1zM5 1h1v1h-1zM4 2h1v1h-1zM10 2h1v1h-1zM4 5h1v1h-1zM6 6h1v1h-1zM11 6h1v1h-1zM3 7h1v1h-1zM9 7h1v1h-1zM2 8h1v1h-1zM4 8h1v1h-1zM15 8h1v1h-1zM27 8h1v1h-1zM13 9h1v1h-1zM5 10h1v1h-1zM7 11h1v1h-1zM8 13h1v1h-1zM13 13h1v1h-1zM4 14h1v1h-1zM9 14h1v1h-1zM1 15h1v1h-1zM7 16h1v1h-1zM12 16h1v1h-1zM4 17h1v1h-1zM17 17h1v1h-1zM7 18h1v1h-1zM8 18h1v1h-1z"/><path fill="rgb(77, 200, 214)" d="M4 1h1v1h-1zM12 2h1v1h-1zM2 3h1v1h-1zM11 3h1v1h-1zM5 4h1v1h-1zM6 4h1v1h-1zM1 5h1v1h-1zM2 6h1v1h-1zM3 8h1v1h-1zM6 8h1v1h-1zM1 9h1v1h-1zM7 9h1v1h-1zM2 10h1v1h-1zM9 10h1v1h-1zM1 11h1v1h-1zM2 11h1v1h-1zM4 12h1v1h-1zM6 13h1v1h-1zM3 14h1v1h-1zM8 14h1v1h-1zM11 14h1v1h-1zM13 14h1v1h-1zM17 14h1v1h-1zM11 15h1v1h-1zM4 16h1v1h-1zM9 16h1v1h-1zM13 16h1v1h-1zM8 17h1v1h-1zM10 17h1v1h-1zM13 17h1v1h-1zM2 18h1v1h-1zM5 18h1v1h-1zM14 18h1v1h-1zM15 18h1v1h-1z"/><path fill="rgb(95, 205, 198)" d="M11 0h1v1h-1zM11 1h1v1h-1zM3 2h1v1h-1zM7 2h1v1h-1zM3 3h1v1h-1zM5 3h1v1h-1zM6 3h1v1h-1zM11 4h1v1h-1zM1 6h1v1h-1zM6 7h1v1h-1zM12 8h1v1h-1zM5 9h1v1h-1zM11 10h1v1h-1zM4 11h1v1h-1zM6 11h1v1h-1zM7 12h1v1h-1zM11 12h1v1h-1zM3 13h1v1h-1zM11 13h1v1h-1zM12 13h1v1h-1zM15 13h1v1h-1zM5 15h1v1h-1zM7 15h1v1h-1zM9 15h1v1h-1zM13 15h1v1h-1zM2 17h1v1h-1zM13 18h1v1h-1z"/><path fill="rgb(112, 210, 181)" d="M5 0h1v1h-1zM6 1h1v1h-1zM8 2h1v1h-1zM7 4h1v1h-1zM8 4h1v1h-1zM3 6h1v1h-1zM9 6h1v1h-1zM11 7h1v1h-1zM1 8h1v1h-1zM8 8h1v1h-1zM10 8h1v1h-1zM11 8h1v1h-1zM4 9h1v1h-1zM6 9h1v1h-1zM15 9h1v1h-1zM17 9h1v1h-1zM7 10h1v1h-1zM11 11h1v1h-1zM16 12h1v1h-1zM17 12h1v1h-1zM9 13h1v1h-1zM10 13h1v1h-1zM14 14h1v1h-1zM12 15h1v1h-1zM2 16h1v1h-1zM15 16h1v1h-1zM1 17h1v1h-1zM1 19h1v1h-1z"/><path fill="rgb(130, 215, 165)" d="M10 1h1v1h-1zM9 3h1v1h-1zM4 4h1v1h-1zM10 9h1v1h-1zM12 9h1v1h-1zM16 9h1v1h-1zM3 10h1v1h-1zM10 10h1v1h-1zM10 11h1v1h-1zM15 11h1v1h-1zM17 11h1v1h-1zM12 12h1v1h-1zM15 12h1v1h-1zM2 13h1v1h-1zM10 14h1v1h-1zM16 14h1v1h-1zM6 15h1v1h-1zM14 16h1v1h-1zM17 16h1v1h-1zM7 17h1v1h-1zM14 17h1v1h-1zM4 18h1v1h-1zM11 18h1v1h-1zM4 19h1v1h-1z"/><path fill="rgb(149, 218, 142)" d="M7 1h1v1h-1zM8 1h1v1h-1zM9 1h1v1h-1zM4 3h1v1h-1zM2 4h1v1h-1zM9 5h1v1h-1zM10 6h1v1h-1zM5 7h1v1h-1zM12 7h1v1h-1zM2 9h1v1h-1zM3 9h1v1h-1zM14 10h1v1h-1zM13 11h1v1h-1zM14 11h1v1h-1zM9 12h1v1h-1zM14 12h1v1h-1zM5 13h1v1h-1zM2 14h1v1h-1zM7 14h1v1h-1zM12 14h1v1h-1zM16 16h1v1h-1zM5 17h1v1h-1zM16 18h1v1h-1zM2 19h1v1h-1z"/><path fill="rgb(168, 222, 120)" d="M10 0h1v1h-1zM3 1h1v1h-1zM11 2h1v1h-1zM10 3h1v1h-1zM12 6h1v1h-1zM7 7h1v1h-1zM8 7h1v1h-1zM5 8h1v1h-1zM14 8h1v1h-1zM8 10h1v1h-1zM13 10h1v1h-1zM16 10h1v1h-1zM3 11h1v1h-1zM17 13h1v1h-1zM15 14h1v1h-1zM17 15h1v1h-1zM10 16h1v1h-1zM6 17h1v1h-1zM1 18h1v1h-1zM3 18h1v1h-1z"/><path fill="rgb(186, 225, 98)" d="M6 0h1v1h-1zM7 3h1v1h-1zM3 4h1v1h-1zM8 5h1v1h-1zM10 5h1v1h-1zM5 6h1v1h-1zM8 6h1v1h-1zM13 8h1v1h-1zM8 9h1v1h-1zM12 10h1v1h-1zM10 12h1v1h-1zM1 13h1v1h-1zM4 13h1v1h-1zM1 14h1v1h-1zM5 14h1v1h-1zM15 15h1v1h-1zM1 16h1v1h-1zM6 16h1v1h-1zM16 17h1v1h-1zM10 18h1v1h-1z"/><path fill="rgb(205, 228, 75)" d="M9 2h1v1h-1zM8 3h1v1h-1zM11 5h1v1h-1zM7 6h1v1h-1zM9 8h1v1h-1zM5 11h1v1h-1zM7 13h1v1h-1zM14 13h1v1h-1zM3 17h1v1h-1z"/><path fill="rgb(215, 224, 67)" d="M1 7h1v1h-1zM7 8h1v1h-1zM17 8h1v1h-1zM5 12h1v1h-1zM5 16h1v1h-1zM9 17h1v1h-1zM3 19h1v1h-1z"/><path fill="rgb(225, 219, 60)" d="M33 0h1v1h-1zM5 2h1v1h-1zM30 2h1v1h-1zM23 3h1v1h-1zM32 3h1v1h-1zM29 5h1v1h-1zM36 6h1v1h-1zM22 7h1v1h-1zM29 7h1v1h-1zM30 7h1v1h-1zM37 8h1v1h-1zM11 9h1v1h-1zM14 9h1v1h-1zM17 10h1v1h-1zM24 10h1v1h-1zM29 10h1v1h-1zM34 11h1v1h-1zM35 11h1v1h-1zM8 12h1v1h-1zM13 12h1v1h-1zM20 12h1v1h-1zM26 13h1v1h-1zM33 14h1v1h-1zM14 15h1v1h-1zM32 15h1v1h-1zM29 16h1v1h-1zM36 16h1v1h-1zM15 17h1v1h-1zM24 18h1v1h-1zM25 19h1v1h-1zM26 19h1v1h-1zM33 19h1v1h-1z"/><path fill="rgb(235, 214, 52)" d="M29 0h1v1h-1zM33 1h1v1h-1zM32 4h1v1h-1zM36 4h1v1h-1zM22 5h1v1h-1zM24 5h1v1h-1zM36 5h1v1h-1zM33 6h1v1h-1zM20 8h1v1h-1zM30 9h1v1h-1zM31 13h1v1h-1zM31 17h1v1h-1zM32 17h1v1h-1zM25 18h1v1h-1zM33 18h1v1h-1zM24 19h1v1h-1z"/><path fill="rgb(245, 210, 45)" d="M31 0h1v1h-1zM23 1h1v1h-1zM31 2h1v1h-1zM32 2h1v1h-1zM25 3h1v1h-1zM26 4h1v1h-1zM29 4h1v1h-1zM25 6h1v1h-1zM34 8h1v1h-1zM27 9h1v1h-1zM29 9h1v1h-1zM35 9h1v1h-1zM25 11h1v1h-1zM33 11h1v1h-1zM31 12h1v1h-1zM24 13h1v1h-1zM25 14h1v1h-1zM30 14h1v1h-1zM31 14h1v1h-1zM23 15h1v1h-1zM30 16h1v1h-1zM31 16h1v1h-1zM25 17h1v1h-1zM30 17h1v1h-1zM29 18h1v1h-1zM28 19h1v1h-1zM30 19h1v1h-1z"/><path fill="rgb(245, 192, 44)" d="M26 2h1v1h-1zM24 4h1v1h-1zM31 8h1v1h-1zM23 14h1v1h-1zM30 15h1v1h-1zM30 18h1v1h-1z"/><path fill="rgb(245, 175, 42)" d="M26 0h1v1h-1zM30 0h1v1h-1zM29 1h1v1h-1zM32 1h1v1h-1zM34 2h1v1h-1zM26 3h1v1h-1zM29 3h1v1h-1zM25 4h1v1h-1zM27 6h1v1h-1zM35 6h1v1h-1zM25 8h1v1h-1zM30 8h1v1h-1zM21 9h1v1h-1zM28 9h1v1h-1zM20 10h1v1h-1zM20 11h1v1h-1zM23 12h1v1h-1zM26 12h1v1h-1zM28 13h1v1h-1zM34 13h1v1h-1zM26 14h1v1h-1zM29 14h1v1h-1zM32 14h1v1h-1zM22 15h1v1h-1zM25 15h1v1h-1zM28 18h1v1h-1z"/><path fill="rgb(245, 158, 41)" d="M25 1h1v1h-1zM28 1h1v1h-1zM28 2h1v1h-1zM27 3h1v1h-1zM30 3h1v1h-1zM31 3h1v1h-1zM34 3h1v1h-1zM31 4h1v1h-1zM33 4h1v1h-1zM26 5h1v1h-1zM35 5h1v1h-1zM32 6h1v1h-1zM37 6h1v1h-1zM45 6h1v1h-1zM23 7h1v1h-1zM27 7h1v1h-1zM28 7h1v1h-1zM32 7h1v1h-1zM26 8h1v1h-1zM35 8h1v1h-1zM37 9h1v1h-1zM21 10h1v1h-1zM25 10h1v1h-1zM34 10h1v1h-1zM28 11h1v1h-1zM31 11h1v1h-1zM32 11h1v1h-1zM24 12h1v1h-1zM36 12h1v1h-1zM27 13h1v1h-1zM29 13h1v1h-1zM30 13h1v1h-1zM33 13h1v1h-1zM22 14h1v1h-1zM34 14h1v1h-1zM37 14h1v1h-1zM24 15h1v1h-1zM27 15h1v1h-1zM29 15h1v1h-1zM35 15h1v1h-1zM33 16h1v1h-1zM35 16h1v1h-1zM35 17h1v1h-1zM26 18h1v1h-1zM31 19h1v1h-1z"/><path fill="rgb(245, 140, 40)" d="M27 0h1v1h-1zM24 1h1v1h-1zM34 1h1v1h-1zM25 2h1v1h-1zM22 3h1v1h-1zM33 3h1v1h-1zM23 4h1v1h-1zM23 5h1v1h-1zM25 5h1v1h-1zM20 6h1v1h-1zM21 6h1v1h-1zM26 6h1v1h-1zM29 6h1v1h-1zM21 7h1v1h-1zM24 7h1v1h-1zM35 7h1v1h-1zM37 7h1v1h-1zM23 8h1v1h-1zM24 8h1v1h-1zM22 9h1v1h-1zM32 9h1v1h-1zM31 10h1v1h-1zM37 10h1v1h-1zM21 11h1v1h-1zM26 11h1v1h-1zM30 11h1v1h-1zM37 11h1v1h-1zM22 12h1v1h-1zM25 12h1v1h-1zM28 12h1v1h-1zM29 12h1v1h-1zM33 12h1v1h-1zM35 12h1v1h-1zM22 13h1v1h-1zM32 13h1v1h-1zM36 13h1v1h-1zM28 14h1v1h-1zM26 15h1v1h-1zM28 15h1v1h-1zM36 15h1v1h-1zM21 16h1v1h-1zM34 16h1v1h-1zM23 17h1v1h-1zM27 17h1v1h-1zM33 17h1v1h-1zM34 17h1v1h-1zM23 18h1v1h-1zM31 18h1v1h-1zM29 19h1v1h-1z"/><path fill="rgb(242, 123, 38)" d="M26 1h1v1h-1zM27 1h1v1h-1zM30 1h1v1h-1zM23 2h1v1h-1zM33 2h1v1h-1zM21 4h1v1h-1zM34 4h1v1h-1zM28 5h1v1h-1zM22 6h1v1h-1zM31 6h1v1h-1zM26 7h1v1h-1zM23 9h1v1h-1zM26 9h1v1h-1zM27 10h1v1h-1zM33 10h1v1h-1zM22 11h1v1h-1zM24 11h1v1h-1zM33 15h1v1h-1zM26 16h1v1h-1zM28 16h1v1h-1zM22 17h1v1h-1zM24 17h1v1h-1zM26 17h1v1h-1zM29 17h1v1h-1zM27 19h1v1h-1z"/><path fill="rgb(238, 105, 35)" d="M27 18h1v1h-1z"/><path fill="rgb(235, 88, 32)" d="M32 0h1v1h-1zM24 2h1v1h-1zM27 2h1v1h-1zM27 4h1v1h-1zM34 5h1v1h-1zM30 6h1v1h-1zM20 7h1v1h-1zM25 7h1v1h-1zM21 8h1v1h-1zM36 8h1v1h-1zM20 9h1v1h-1zM25 9h1v1h-1zM36 10h1v1h-1zM23 11h1v1h-1zM30 12h1v1h-1zM32 12h1v1h-1zM37 12h1v1h-1zM21 13h1v1h-1zM37 13h1v1h-1zM21 14h1v1h-1zM35 14h1v1h-1zM21 15h1v1h-1zM34 15h1v1h-1zM24 16h1v1h-1zM25 16h1v1h-1zM27 16h1v1h-1zM28 17h1v1h-1zM32 18h1v1h-1z"/><path fill="rgb(232, 70, 30)" d="M25 0h1v1h-1zM28 0h1v1h-1zM31 1h1v1h-1zM24 3h1v1h-1zM28 3h1v1h-1zM28 4h1v1h-1zM30 5h1v1h-1zM31 5h1v1h-1zM28 6h1v1h-1zM32 8h1v1h-1zM31 9h1v1h-1zM36 9h1v1h-1zM22 10h1v1h-1zM23 10h1v1h-1zM30 10h1v1h-1zM35 10h1v1h-1zM21 12h1v1h-1zM20 13h1v1h-1zM23 13h1v1h-1zM35 13h1v1h-1zM27 14h1v1h-1zM36 14h1v1h-1zM22 16h1v1h-1zM32 16h1v1h-1zM34 18h1v1h-1z"/><path fill="rgb(216, 60, 30)" d="M29 2h1v1h-1zM35 3h1v1h-1zM22 4h1v1h-1zM35 4h1v1h-1zM33 5h1v1h-1zM23 6h1v1h-1zM24 6h1v1h-1zM36 7h1v1h-1zM22 8h1v1h-1zM33 8h1v1h-1zM24 9h1v1h-1zM26 10h1v1h-1zM28 10h1v1h-1zM29 11h1v1h-1zM36 11h1v1h-1zM34 12h1v1h-1zM25 13h1v1h-1zM24 14h1v1h-1zM31 15h1v1h-1zM23 16h1v1h-1zM32 19h1v1h-1z"/><path fill="rgb(201, 50, 30)" d="M21 5h1v1h-1zM31 7h1v1h-1zM29 8h1v1h-1z"/></g></g>
<rect x="23.2" y="260.7" width="150.0" height="39.30000000000001" fill="none" stroke="#222" stroke-width="0.8"/>
<g filter="url(#bl)"><g transform="translate(23.5 358.0) scale(2.0187 1.9300)" shape-rendering="crispEdges"><path fill="rgb(54, 54, 144)" d="M27 2h1v1h-1zM5 3h1v1h-1zM6 3h1v1h-1zM7 3h1v1h-1zM8 3h1v1h-1zM27 3h1v1h-1zM45 3h1v1h-1zM5 4h1v1h-1zM6 4h1v1h-1zM7 4h1v1h-1zM25 4h1v1h-1zM45 4h1v1h-1zM2 5h1v1h-1zM12 5h1v1h-1zM41 5h1v1h-1zM46 5h1v1h-1zM48 5h1v1h-1zM15 6h1v1h-1zM22 6h1v1h-1zM38 6h1v1h-1zM40 6h1v1h-1zM14 7h1v1h-1zM20 7h1v1h-1zM33 7h1v1h-1zM39 7h1v1h-1zM15 8h1v1h-1zM49 8h1v1h-1zM3 10h1v1h-1zM21 10h1v1h-1zM32 10h1v1h-1zM3 11h1v1h-1zM13 11h1v1h-1zM1 12h1v1h-1zM32 12h1v1h-1zM14 13h1v1h-1zM15 13h1v1h-1zM21 13h1v1h-1zM22 13h1v1h-1zM30 13h1v1h-1zM31 13h1v1h-1zM40 13h1v1h-1zM50 13h1v1h-1zM5 14h1v1h-1zM13 14h1v1h-1zM21 14h1v1h-1zM22 14h1v1h-1zM30 14h1v1h-1zM31 14h1v1h-1zM4 15h1v1h-1zM13 15h1v1h-1zM24 15h1v1h-1zM25 15h1v1h-1zM44 15h1v1h-1zM8 16h1v1h-1zM11 16h1v1h-1zM12 16h1v1h-1zM13 16h1v1h-1zM22 16h1v1h-1zM26 16h1v1h-1zM29 16h1v1h-1zM42 16h1v1h-1zM43 16h1v1h-1zM44 16h1v1h-1zM5 17h1v1h-1zM26 17h1v1h-1z"/><path fill="rgb(56, 61, 150)" d="M6 2h1v1h-1zM8 2h1v1h-1zM9 2h1v1h-1zM24 2h1v1h-1zM25 2h1v1h-1zM26 2h1v1h-1zM28 2h1v1h-1zM44 2h1v1h-1zM45 2h1v1h-1zM24 3h1v1h-1zM26 3h1v1h-1zM42 3h1v1h-1zM43 3h1v1h-1zM44 3h1v1h-1zM46 3h1v1h-1zM47 3h1v1h-1zM3 4h1v1h-1zM4 4h1v1h-1zM9 4h1v1h-1zM13 4h1v1h-1zM22 4h1v1h-1zM24 4h1v1h-1zM26 4h1v1h-1zM27 4h1v1h-1zM28 4h1v1h-1zM30 4h1v1h-1zM43 4h1v1h-1zM44 4h1v1h-1zM47 4h1v1h-1zM49 4h1v1h-1zM5 5h1v1h-1zM10 5h1v1h-1zM11 5h1v1h-1zM13 5h1v1h-1zM14 5h1v1h-1zM22 5h1v1h-1zM23 5h1v1h-1zM24 5h1v1h-1zM30 5h1v1h-1zM31 5h1v1h-1zM32 5h1v1h-1zM40 5h1v1h-1zM43 5h1v1h-1zM44 5h1v1h-1zM50 5h1v1h-1zM2 6h1v1h-1zM3 6h1v1h-1zM5 6h1v1h-1zM8 6h1v1h-1zM9 6h1v1h-1zM10 6h1v1h-1zM13 6h1v1h-1zM14 6h1v1h-1zM26 6h1v1h-1zM29 6h1v1h-1zM31 6h1v1h-1zM32 6h1v1h-1zM33 6h1v1h-1zM39 6h1v1h-1zM41 6h1v1h-1zM48 6h1v1h-1zM49 6h1v1h-1zM2 7h1v1h-1zM4 7h1v1h-1zM5 7h1v1h-1zM8 7h1v1h-1zM13 7h1v1h-1zM15 7h1v1h-1zM25 7h1v1h-1zM30 7h1v1h-1zM32 7h1v1h-1zM38 7h1v1h-1zM41 7h1v1h-1zM47 7h1v1h-1zM48 7h1v1h-1zM50 7h1v1h-1zM51 7h1v1h-1zM2 8h1v1h-1zM4 8h1v1h-1zM5 8h1v1h-1zM12 8h1v1h-1zM14 8h1v1h-1zM20 8h1v1h-1zM31 8h1v1h-1zM32 8h1v1h-1zM33 8h1v1h-1zM39 8h1v1h-1zM40 8h1v1h-1zM41 8h1v1h-1zM48 8h1v1h-1zM1 9h1v1h-1zM2 9h1v1h-1zM3 9h1v1h-1zM7 9h1v1h-1zM19 9h1v1h-1zM21 9h1v1h-1zM22 9h1v1h-1zM24 9h1v1h-1zM31 9h1v1h-1zM38 9h1v1h-1zM39 9h1v1h-1zM50 9h1v1h-1zM2 10h1v1h-1zM7 10h1v1h-1zM10 10h1v1h-1zM12 10h1v1h-1zM14 10h1v1h-1zM15 10h1v1h-1zM19 10h1v1h-1zM25 10h1v1h-1zM26 10h1v1h-1zM31 10h1v1h-1zM33 10h1v1h-1zM38 10h1v1h-1zM39 10h1v1h-1zM40 10h1v1h-1zM49 10h1v1h-1zM51 10h1v1h-1zM2 11h1v1h-1zM4 11h1v1h-1zM14 11h1v1h-1zM16 11h1v1h-1zM19 11h1v1h-1zM21 11h1v1h-1zM24 11h1v1h-1zM32 11h1v1h-1zM33 11h1v1h-1zM38 11h1v1h-1zM39 11h1v1h-1zM48 11h1v1h-1zM50 11h1v1h-1zM51 11h1v1h-1zM5 12h1v1h-1zM7 12h1v1h-1zM14 12h1v1h-1zM15 12h1v1h-1zM20 12h1v1h-1zM31 12h1v1h-1zM33 12h1v1h-1zM40 12h1v1h-1zM42 12h1v1h-1zM46 12h1v1h-1zM47 12h1v1h-1zM48 12h1v1h-1zM50 12h1v1h-1zM1 13h1v1h-1zM2 13h1v1h-1zM3 13h1v1h-1zM9 13h1v1h-1zM32 13h1v1h-1zM39 13h1v1h-1zM41 13h1v1h-1zM48 13h1v1h-1zM2 14h1v1h-1zM3 14h1v1h-1zM4 14h1v1h-1zM14 14h1v1h-1zM28 14h1v1h-1zM39 14h1v1h-1zM42 14h1v1h-1zM44 14h1v1h-1zM46 14h1v1h-1zM47 14h1v1h-1zM48 14h1v1h-1zM3 15h1v1h-1zM7 15h1v1h-1zM8 15h1v1h-1zM21 15h1v1h-1zM28 15h1v1h-1zM30 15h1v1h-1zM40 15h1v1h-1zM43 15h1v1h-1zM45 15h1v1h-1zM4 16h1v1h-1zM6 16h1v1h-1zM7 16h1v1h-1zM9 16h1v1h-1zM45 16h1v1h-1zM46 16h1v1h-1zM47 16h1v1h-1zM6 17h1v1h-1zM7 17h1v1h-1zM8 17h1v1h-1zM9 17h1v1h-1zM10 17h1v1h-1zM25 17h1v1h-1zM27 17h1v1h-1z"/><path fill="rgb(58, 68, 156)" d="M3 0h1v1h-1zM4 0h1v1h-1zM5 0h1v1h-1zM6 0h1v1h-1zM12 0h1v1h-1zM13 0h1v1h-1zM14 0h1v1h-1zM16 0h1v1h-1zM18 0h1v1h-1zM20 0h1v1h-1zM21 0h1v1h-1zM23 0h1v1h-1zM24 0h1v1h-1zM27 0h1v1h-1zM30 0h1v1h-1zM31 0h1v1h-1zM32 0h1v1h-1zM33 0h1v1h-1zM35 0h1v1h-1zM37 0h1v1h-1zM38 0h1v1h-1zM40 0h1v1h-1zM41 0h1v1h-1zM44 0h1v1h-1zM45 0h1v1h-1zM50 0h1v1h-1zM51 0h1v1h-1zM54 0h1v1h-1zM55 0h1v1h-1zM56 0h1v1h-1zM60 0h1v1h-1zM62 0h1v1h-1zM70 0h1v1h-1zM72 0h1v1h-1zM73 0h1v1h-1zM1 1h1v1h-1zM2 1h1v1h-1zM4 1h1v1h-1zM5 1h1v1h-1zM6 1h1v1h-1zM7 1h1v1h-1zM12 1h1v1h-1zM13 1h1v1h-1zM17 1h1v1h-1zM21 1h1v1h-1zM24 1h1v1h-1zM25 1h1v1h-1zM27 1h1v1h-1zM32 1h1v1h-1zM33 1h1v1h-1zM34 1h1v1h-1zM37 1h1v1h-1zM39 1h1v1h-1zM40 1h1v1h-1zM41 1h1v1h-1zM48 1h1v1h-1zM53 1h1v1h-1zM54 1h1v1h-1zM57 1h1v1h-1zM70 1h1v1h-1zM71 1h1v1h-1zM73 1h1v1h-1zM74 1h1v1h-1zM0 2h1v1h-1zM2 2h1v1h-1zM3 2h1v1h-1zM4 2h1v1h-1zM5 2h1v1h-1zM7 2h1v1h-1zM10 2h1v1h-1zM14 2h1v1h-1zM17 2h1v1h-1zM23 2h1v1h-1zM29 2h1v1h-1zM32 2h1v1h-1zM35 2h1v1h-1zM36 2h1v1h-1zM41 2h1v1h-1zM43 2h1v1h-1zM47 2h1v1h-1zM48 2h1v1h-1zM49 2h1v1h-1zM52 2h1v1h-1zM56 2h1v1h-1zM58 2h1v1h-1zM59 2h1v1h-1zM0 3h1v1h-1zM1 3h1v1h-1zM4 3h1v1h-1zM9 3h1v1h-1zM11 3h1v1h-1zM12 3h1v1h-1zM14 3h1v1h-1zM16 3h1v1h-1zM18 3h1v1h-1zM19 3h1v1h-1zM20 3h1v1h-1zM25 3h1v1h-1zM29 3h1v1h-1zM30 3h1v1h-1zM33 3h1v1h-1zM36 3h1v1h-1zM37 3h1v1h-1zM38 3h1v1h-1zM40 3h1v1h-1zM41 3h1v1h-1zM48 3h1v1h-1zM49 3h1v1h-1zM52 3h1v1h-1zM53 3h1v1h-1zM54 3h1v1h-1zM55 3h1v1h-1zM56 3h1v1h-1zM57 3h1v1h-1zM73 3h1v1h-1zM1 4h1v1h-1zM8 4h1v1h-1zM10 4h1v1h-1zM11 4h1v1h-1zM14 4h1v1h-1zM19 4h1v1h-1zM21 4h1v1h-1zM31 4h1v1h-1zM33 4h1v1h-1zM38 4h1v1h-1zM39 4h1v1h-1zM41 4h1v1h-1zM42 4h1v1h-1zM46 4h1v1h-1zM48 4h1v1h-1zM52 4h1v1h-1zM53 4h1v1h-1zM55 4h1v1h-1zM0 5h1v1h-1zM1 5h1v1h-1zM3 5h1v1h-1zM4 5h1v1h-1zM18 5h1v1h-1zM19 5h1v1h-1zM20 5h1v1h-1zM21 5h1v1h-1zM25 5h1v1h-1zM26 5h1v1h-1zM28 5h1v1h-1zM29 5h1v1h-1zM36 5h1v1h-1zM37 5h1v1h-1zM39 5h1v1h-1zM47 5h1v1h-1zM49 5h1v1h-1zM51 5h1v1h-1zM52 5h1v1h-1zM53 5h1v1h-1zM57 5h1v1h-1zM72 5h1v1h-1zM73 5h1v1h-1zM4 6h1v1h-1zM7 6h1v1h-1zM11 6h1v1h-1zM12 6h1v1h-1zM16 6h1v1h-1zM17 6h1v1h-1zM18 6h1v1h-1zM28 6h1v1h-1zM30 6h1v1h-1zM34 6h1v1h-1zM35 6h1v1h-1zM37 6h1v1h-1zM45 6h1v1h-1zM46 6h1v1h-1zM47 6h1v1h-1zM50 6h1v1h-1zM51 6h1v1h-1zM73 6h1v1h-1zM1 7h1v1h-1zM3 7h1v1h-1zM6 7h1v1h-1zM7 7h1v1h-1zM9 7h1v1h-1zM11 7h1v1h-1zM12 7h1v1h-1zM18 7h1v1h-1zM19 7h1v1h-1zM21 7h1v1h-1zM23 7h1v1h-1zM24 7h1v1h-1zM26 7h1v1h-1zM27 7h1v1h-1zM29 7h1v1h-1zM31 7h1v1h-1zM34 7h1v1h-1zM36 7h1v1h-1zM40 7h1v1h-1zM44 7h1v1h-1zM45 7h1v1h-1zM46 7h1v1h-1zM52 7h1v1h-1zM54 7h1v1h-1zM73 7h1v1h-1zM1 8h1v1h-1zM3 8h1v1h-1zM8 8h1v1h-1zM10 8h1v1h-1zM11 8h1v1h-1zM13 8h1v1h-1zM17 8h1v1h-1zM19 8h1v1h-1zM22 8h1v1h-1zM24 8h1v1h-1zM25 8h1v1h-1zM26 8h1v1h-1zM27 8h1v1h-1zM28 8h1v1h-1zM30 8h1v1h-1zM34 8h1v1h-1zM36 8h1v1h-1zM38 8h1v1h-1zM42 8h1v1h-1zM43 8h1v1h-1zM46 8h1v1h-1zM47 8h1v1h-1zM50 8h1v1h-1zM51 8h1v1h-1zM52 8h1v1h-1zM54 8h1v1h-1zM55 8h1v1h-1zM56 8h1v1h-1zM73 8h1v1h-1zM74 8h1v1h-1zM4 9h1v1h-1zM6 9h1v1h-1zM8 9h1v1h-1zM10 9h1v1h-1zM12 9h1v1h-1zM13 9h1v1h-1zM14 9h1v1h-1zM15 9h1v1h-1zM23 9h1v1h-1zM25 9h1v1h-1zM26 9h1v1h-1zM27 9h1v1h-1zM28 9h1v1h-1zM29 9h1v1h-1zM32 9h1v1h-1zM33 9h1v1h-1zM37 9h1v1h-1zM40 9h1v1h-1zM41 9h1v1h-1zM42 9h1v1h-1zM43 9h1v1h-1zM44 9h1v1h-1zM46 9h1v1h-1zM47 9h1v1h-1zM51 9h1v1h-1zM53 9h1v1h-1zM56 9h1v1h-1zM73 9h1v1h-1zM1 10h1v1h-1zM5 10h1v1h-1zM6 10h1v1h-1zM13 10h1v1h-1zM16 10h1v1h-1zM17 10h1v1h-1zM23 10h1v1h-1zM24 10h1v1h-1zM27 10h1v1h-1zM28 10h1v1h-1zM30 10h1v1h-1zM37 10h1v1h-1zM41 10h1v1h-1zM42 10h1v1h-1zM44 10h1v1h-1zM47 10h1v1h-1zM52 10h1v1h-1zM54 10h1v1h-1zM55 10h1v1h-1zM74 10h1v1h-1zM0 11h1v1h-1zM5 11h1v1h-1zM6 11h1v1h-1zM7 11h1v1h-1zM9 11h1v1h-1zM12 11h1v1h-1zM15 11h1v1h-1zM20 11h1v1h-1zM22 11h1v1h-1zM25 11h1v1h-1zM27 11h1v1h-1zM28 11h1v1h-1zM30 11h1v1h-1zM34 11h1v1h-1zM36 11h1v1h-1zM40 11h1v1h-1zM41 11h1v1h-1zM42 11h1v1h-1zM44 11h1v1h-1zM46 11h1v1h-1zM47 11h1v1h-1zM52 11h1v1h-1zM53 11h1v1h-1zM55 11h1v1h-1zM74 11h1v1h-1zM2 12h1v1h-1zM3 12h1v1h-1zM6 12h1v1h-1zM8 12h1v1h-1zM9 12h1v1h-1zM13 12h1v1h-1zM16 12h1v1h-1zM17 12h1v1h-1zM18 12h1v1h-1zM22 12h1v1h-1zM24 12h1v1h-1zM25 12h1v1h-1zM26 12h1v1h-1zM27 12h1v1h-1zM28 12h1v1h-1zM29 12h1v1h-1zM30 12h1v1h-1zM34 12h1v1h-1zM35 12h1v1h-1zM37 12h1v1h-1zM38 12h1v1h-1zM39 12h1v1h-1zM43 12h1v1h-1zM49 12h1v1h-1zM51 12h1v1h-1zM52 12h1v1h-1zM53 12h1v1h-1zM56 12h1v1h-1zM57 12h1v1h-1zM72 12h1v1h-1zM4 13h1v1h-1zM5 13h1v1h-1zM6 13h1v1h-1zM7 13h1v1h-1zM8 13h1v1h-1zM11 13h1v1h-1zM12 13h1v1h-1zM13 13h1v1h-1zM16 13h1v1h-1zM19 13h1v1h-1zM20 13h1v1h-1zM23 13h1v1h-1zM26 13h1v1h-1zM27 13h1v1h-1zM29 13h1v1h-1zM34 13h1v1h-1zM35 13h1v1h-1zM37 13h1v1h-1zM43 13h1v1h-1zM44 13h1v1h-1zM46 13h1v1h-1zM47 13h1v1h-1zM49 13h1v1h-1zM51 13h1v1h-1zM53 13h1v1h-1zM54 13h1v1h-1zM55 13h1v1h-1zM72 13h1v1h-1zM73 13h1v1h-1zM74 13h1v1h-1zM6 14h1v1h-1zM11 14h1v1h-1zM15 14h1v1h-1zM19 14h1v1h-1zM20 14h1v1h-1zM23 14h1v1h-1zM25 14h1v1h-1zM26 14h1v1h-1zM29 14h1v1h-1zM33 14h1v1h-1zM35 14h1v1h-1zM36 14h1v1h-1zM37 14h1v1h-1zM40 14h1v1h-1zM41 14h1v1h-1zM43 14h1v1h-1zM45 14h1v1h-1zM49 14h1v1h-1zM50 14h1v1h-1zM52 14h1v1h-1zM55 14h1v1h-1zM57 14h1v1h-1zM0 15h1v1h-1zM2 15h1v1h-1zM5 15h1v1h-1zM6 15h1v1h-1zM12 15h1v1h-1zM14 15h1v1h-1zM15 15h1v1h-1zM17 15h1v1h-1zM18 15h1v1h-1zM19 15h1v1h-1zM20 15h1v1h-1zM22 15h1v1h-1zM23 15h1v1h-1zM26 15h1v1h-1zM27 15h1v1h-1zM29 15h1v1h-1zM31 15h1v1h-1zM33 15h1v1h-1zM34 15h1v1h-1zM35 15h1v1h-1zM36 15h1v1h-1zM38 15h1v1h-1zM39 15h1v1h-1zM41 15h1v1h-1zM48 15h1v1h-1zM51 15h1v1h-1zM52 15h1v1h-1zM53 15h1v1h-1zM54 15h1v1h-1zM57 15h1v1h-1zM72 15h1v1h-1zM74 15h1v1h-1zM1 16h1v1h-1zM3 16h1v1h-1zM5 16h1v1h-1zM10 16h1v1h-1zM19 16h1v1h-1zM20 16h1v1h-1zM23 16h1v1h-1zM24 16h1v1h-1zM25 16h1v1h-1zM27 16h1v1h-1zM30 16h1v1h-1zM32 16h1v1h-1zM34 16h1v1h-1zM37 16h1v1h-1zM38 16h1v1h-1zM39 16h1v1h-1zM51 16h1v1h-1zM53 16h1v1h-1zM55 16h1v1h-1zM56 16h1v1h-1zM71 16h1v1h-1zM72 16h1v1h-1zM74 16h1v1h-1zM0 17h1v1h-1zM3 17h1v1h-1zM12 17h1v1h-1zM13 17h1v1h-1zM14 17h1v1h-1zM19 17h1v1h-1zM20 17h1v1h-1zM22 17h1v1h-1zM24 17h1v1h-1zM28 17h1v1h-1zM31 17h1v1h-1zM32 17h1v1h-1zM34 17h1v1h-1zM35 17h1v1h-1zM36 17h1v1h-1zM41 17h1v1h-1zM43 17h1v1h-1zM44 17h1v1h-1zM45 17h1v1h-1zM47 17h1v1h-1zM49 17h1v1h-1zM55 17h1v1h-1zM57 17h1v1h-1zM58 17h1v1h-1zM59 17h1v1h-1zM70 17h1v1h-1zM71 17h1v1h-1zM73 17h1v1h-1zM74 17h1v1h-1zM0 18h1v1h-1zM1 18h1v1h-1zM2 18h1v1h-1zM7 18h1v1h-1zM9 18h1v1h-1zM15 18h1v1h-1zM17 18h1v1h-1zM18 18h1v1h-1zM19 18h1v1h-1zM20 18h1v1h-1zM25 18h1v1h-1zM30 18h1v1h-1zM34 18h1v1h-1zM40 18h1v1h-1zM42 18h1v1h-1zM43 18h1v1h-1zM44 18h1v1h-1zM45 18h1v1h-1zM46 18h1v1h-1zM53 18h1v1h-1zM54 18h1v1h-1zM56 18h1v1h-1zM58 18h1v1h-1zM72 18h1v1h-1zM1 19h1v1h-1zM7 19h1v1h-1zM13 19h1v1h-1zM17 19h1v1h-1zM19 19h1v1h-1zM24 19h1v1h-1zM25 19h1v1h-1zM27 19h1v1h-1zM28 19h1v1h-1zM29 19h1v1h-1zM32 19h1v1h-1zM33 19h1v1h-1zM37 19h1v1h-1zM42 19h1v1h-1zM45 19h1v1h-1zM46 19h1v1h-1zM48 19h1v1h-1zM50 19h1v1h-1zM51 19h1v1h-1zM53 19h1v1h-1zM57 19h1v1h-1zM58 19h1v1h-1zM59 19h1v1h-1zM60 19h1v1h-1zM61 19h1v1h-1zM68 19h1v1h-1zM71 19h1v1h-1zM74 19h1v1h-1z"/><path fill="rgb(60, 74, 162)" d="M0 0h1v1h-1zM1 0h1v1h-1zM2 0h1v1h-1zM7 0h1v1h-1zM8 0h1v1h-1zM9 0h1v1h-1zM10 0h1v1h-1zM11 0h1v1h-1zM15 0h1v1h-1zM17 0h1v1h-1zM19 0h1v1h-1zM22 0h1v1h-1zM25 0h1v1h-1zM26 0h1v1h-1zM29 0h1v1h-1zM34 0h1v1h-1zM36 0h1v1h-1zM39 0h1v1h-1zM42 0h1v1h-1zM43 0h1v1h-1zM46 0h1v1h-1zM49 0h1v1h-1zM52 0h1v1h-1zM53 0h1v1h-1zM57 0h1v1h-1zM58 0h1v1h-1zM59 0h1v1h-1zM61 0h1v1h-1zM68 0h1v1h-1zM71 0h1v1h-1zM74 0h1v1h-1zM0 1h1v1h-1zM3 1h1v1h-1zM8 1h1v1h-1zM11 1h1v1h-1zM14 1h1v1h-1zM15 1h1v1h-1zM16 1h1v1h-1zM18 1h1v1h-1zM19 1h1v1h-1zM20 1h1v1h-1zM22 1h1v1h-1zM23 1h1v1h-1zM26 1h1v1h-1zM28 1h1v1h-1zM29 1h1v1h-1zM30 1h1v1h-1zM31 1h1v1h-1zM35 1h1v1h-1zM36 1h1v1h-1zM38 1h1v1h-1zM43 1h1v1h-1zM44 1h1v1h-1zM45 1h1v1h-1zM47 1h1v1h-1zM49 1h1v1h-1zM50 1h1v1h-1zM51 1h1v1h-1zM52 1h1v1h-1zM55 1h1v1h-1zM56 1h1v1h-1zM58 1h1v1h-1zM59 1h1v1h-1zM60 1h1v1h-1zM69 1h1v1h-1zM72 1h1v1h-1zM1 2h1v1h-1zM11 2h1v1h-1zM12 2h1v1h-1zM13 2h1v1h-1zM15 2h1v1h-1zM16 2h1v1h-1zM18 2h1v1h-1zM19 2h1v1h-1zM21 2h1v1h-1zM22 2h1v1h-1zM30 2h1v1h-1zM31 2h1v1h-1zM33 2h1v1h-1zM34 2h1v1h-1zM37 2h1v1h-1zM38 2h1v1h-1zM39 2h1v1h-1zM40 2h1v1h-1zM42 2h1v1h-1zM46 2h1v1h-1zM51 2h1v1h-1zM53 2h1v1h-1zM54 2h1v1h-1zM55 2h1v1h-1zM57 2h1v1h-1zM64 2h1v1h-1zM70 2h1v1h-1zM71 2h1v1h-1zM72 2h1v1h-1zM74 2h1v1h-1zM2 3h1v1h-1zM3 3h1v1h-1zM10 3h1v1h-1zM13 3h1v1h-1zM15 3h1v1h-1zM17 3h1v1h-1zM21 3h1v1h-1zM22 3h1v1h-1zM23 3h1v1h-1zM28 3h1v1h-1zM32 3h1v1h-1zM34 3h1v1h-1zM35 3h1v1h-1zM39 3h1v1h-1zM50 3h1v1h-1zM51 3h1v1h-1zM58 3h1v1h-1zM71 3h1v1h-1zM72 3h1v1h-1zM0 4h1v1h-1zM2 4h1v1h-1zM12 4h1v1h-1zM15 4h1v1h-1zM16 4h1v1h-1zM17 4h1v1h-1zM18 4h1v1h-1zM20 4h1v1h-1zM23 4h1v1h-1zM29 4h1v1h-1zM32 4h1v1h-1zM34 4h1v1h-1zM35 4h1v1h-1zM36 4h1v1h-1zM40 4h1v1h-1zM50 4h1v1h-1zM54 4h1v1h-1zM56 4h1v1h-1zM57 4h1v1h-1zM58 4h1v1h-1zM61 4h1v1h-1zM67 4h1v1h-1zM72 4h1v1h-1zM73 4h1v1h-1zM74 4h1v1h-1zM6 5h1v1h-1zM7 5h1v1h-1zM8 5h1v1h-1zM9 5h1v1h-1zM16 5h1v1h-1zM17 5h1v1h-1zM27 5h1v1h-1zM34 5h1v1h-1zM35 5h1v1h-1zM38 5h1v1h-1zM42 5h1v1h-1zM45 5h1v1h-1zM54 5h1v1h-1zM55 5h1v1h-1zM56 5h1v1h-1zM65 5h1v1h-1zM71 5h1v1h-1zM74 5h1v1h-1zM0 6h1v1h-1zM1 6h1v1h-1zM6 6h1v1h-1zM19 6h1v1h-1zM20 6h1v1h-1zM21 6h1v1h-1zM23 6h1v1h-1zM24 6h1v1h-1zM25 6h1v1h-1zM27 6h1v1h-1zM36 6h1v1h-1zM42 6h1v1h-1zM43 6h1v1h-1zM44 6h1v1h-1zM52 6h1v1h-1zM54 6h1v1h-1zM55 6h1v1h-1zM56 6h1v1h-1zM57 6h1v1h-1zM72 6h1v1h-1zM74 6h1v1h-1zM0 7h1v1h-1zM10 7h1v1h-1zM16 7h1v1h-1zM17 7h1v1h-1zM22 7h1v1h-1zM28 7h1v1h-1zM35 7h1v1h-1zM37 7h1v1h-1zM42 7h1v1h-1zM43 7h1v1h-1zM49 7h1v1h-1zM53 7h1v1h-1zM55 7h1v1h-1zM56 7h1v1h-1zM57 7h1v1h-1zM60 7h1v1h-1zM68 7h1v1h-1zM72 7h1v1h-1zM74 7h1v1h-1zM0 8h1v1h-1zM6 8h1v1h-1zM7 8h1v1h-1zM9 8h1v1h-1zM16 8h1v1h-1zM18 8h1v1h-1zM21 8h1v1h-1zM23 8h1v1h-1zM29 8h1v1h-1zM35 8h1v1h-1zM37 8h1v1h-1zM44 8h1v1h-1zM45 8h1v1h-1zM53 8h1v1h-1zM68 8h1v1h-1zM0 9h1v1h-1zM5 9h1v1h-1zM9 9h1v1h-1zM11 9h1v1h-1zM16 9h1v1h-1zM17 9h1v1h-1zM18 9h1v1h-1zM20 9h1v1h-1zM30 9h1v1h-1zM34 9h1v1h-1zM35 9h1v1h-1zM36 9h1v1h-1zM45 9h1v1h-1zM48 9h1v1h-1zM49 9h1v1h-1zM52 9h1v1h-1zM54 9h1v1h-1zM55 9h1v1h-1zM63 9h1v1h-1zM0 10h1v1h-1zM4 10h1v1h-1zM8 10h1v1h-1zM9 10h1v1h-1zM11 10h1v1h-1zM20 10h1v1h-1zM22 10h1v1h-1zM29 10h1v1h-1zM34 10h1v1h-1zM36 10h1v1h-1zM43 10h1v1h-1zM45 10h1v1h-1zM46 10h1v1h-1zM48 10h1v1h-1zM50 10h1v1h-1zM53 10h1v1h-1zM56 10h1v1h-1zM73 10h1v1h-1zM1 11h1v1h-1zM8 11h1v1h-1zM10 11h1v1h-1zM11 11h1v1h-1zM18 11h1v1h-1zM23 11h1v1h-1zM26 11h1v1h-1zM29 11h1v1h-1zM31 11h1v1h-1zM35 11h1v1h-1zM37 11h1v1h-1zM43 11h1v1h-1zM45 11h1v1h-1zM49 11h1v1h-1zM54 11h1v1h-1zM56 11h1v1h-1zM62 11h1v1h-1zM67 11h1v1h-1zM68 11h1v1h-1zM73 11h1v1h-1zM0 12h1v1h-1zM4 12h1v1h-1zM10 12h1v1h-1zM11 12h1v1h-1zM12 12h1v1h-1zM19 12h1v1h-1zM21 12h1v1h-1zM23 12h1v1h-1zM36 12h1v1h-1zM41 12h1v1h-1zM44 12h1v1h-1zM45 12h1v1h-1zM54 12h1v1h-1zM55 12h1v1h-1zM73 12h1v1h-1zM74 12h1v1h-1zM0 13h1v1h-1zM10 13h1v1h-1zM17 13h1v1h-1zM18 13h1v1h-1zM24 13h1v1h-1zM25 13h1v1h-1zM28 13h1v1h-1zM33 13h1v1h-1zM36 13h1v1h-1zM42 13h1v1h-1zM45 13h1v1h-1zM52 13h1v1h-1zM56 13h1v1h-1zM57 13h1v1h-1zM66 13h1v1h-1zM70 13h1v1h-1zM0 14h1v1h-1zM1 14h1v1h-1zM7 14h1v1h-1zM8 14h1v1h-1zM9 14h1v1h-1zM10 14h1v1h-1zM12 14h1v1h-1zM16 14h1v1h-1zM17 14h1v1h-1zM24 14h1v1h-1zM27 14h1v1h-1zM32 14h1v1h-1zM34 14h1v1h-1zM38 14h1v1h-1zM51 14h1v1h-1zM53 14h1v1h-1zM54 14h1v1h-1zM56 14h1v1h-1zM62 14h1v1h-1zM72 14h1v1h-1zM73 14h1v1h-1zM74 14h1v1h-1zM1 15h1v1h-1zM9 15h1v1h-1zM10 15h1v1h-1zM11 15h1v1h-1zM16 15h1v1h-1zM32 15h1v1h-1zM37 15h1v1h-1zM42 15h1v1h-1zM46 15h1v1h-1zM47 15h1v1h-1zM49 15h1v1h-1zM50 15h1v1h-1zM56 15h1v1h-1zM58 15h1v1h-1zM66 15h1v1h-1zM71 15h1v1h-1zM73 15h1v1h-1zM0 16h1v1h-1zM2 16h1v1h-1zM14 16h1v1h-1zM15 16h1v1h-1zM16 16h1v1h-1zM17 16h1v1h-1zM18 16h1v1h-1zM21 16h1v1h-1zM28 16h1v1h-1zM31 16h1v1h-1zM33 16h1v1h-1zM35 16h1v1h-1zM36 16h1v1h-1zM40 16h1v1h-1zM41 16h1v1h-1zM48 16h1v1h-1zM49 16h1v1h-1zM50 16h1v1h-1zM52 16h1v1h-1zM54 16h1v1h-1zM57 16h1v1h-1zM58 16h1v1h-1zM73 16h1v1h-1zM1 17h1v1h-1zM2 17h1v1h-1zM11 17h1v1h-1zM15 17h1v1h-1zM16 17h1v1h-1zM17 17h1v1h-1zM18 17h1v1h-1zM21 17h1v1h-1zM23 17h1v1h-1zM29 17h1v1h-1zM30 17h1v1h-1zM33 17h1v1h-1zM37 17h1v1h-1zM39 17h1v1h-1zM40 17h1v1h-1zM42 17h1v1h-1zM46 17h1v1h-1zM48 17h1v1h-1zM50 17h1v1h-1zM51 17h1v1h-1zM52 17h1v1h-1zM53 17h1v1h-1zM54 17h1v1h-1zM56 17h1v1h-1zM68 17h1v1h-1zM72 17h1v1h-1zM3 18h1v1h-1zM5 18h1v1h-1zM6 18h1v1h-1zM8 18h1v1h-1zM10 18h1v1h-1zM12 18h1v1h-1zM13 18h1v1h-1zM14 18h1v1h-1zM16 18h1v1h-1zM21 18h1v1h-1zM22 18h1v1h-1zM23 18h1v1h-1zM24 18h1v1h-1zM26 18h1v1h-1zM27 18h1v1h-1zM29 18h1v1h-1zM31 18h1v1h-1zM32 18h1v1h-1zM33 18h1v1h-1zM35 18h1v1h-1zM36 18h1v1h-1zM37 18h1v1h-1zM39 18h1v1h-1zM41 18h1v1h-1zM47 18h1v1h-1zM49 18h1v1h-1zM50 18h1v1h-1zM51 18h1v1h-1zM52 18h1v1h-1zM55 18h1v1h-1zM57 18h1v1h-1zM59 18h1v1h-1zM60 18h1v1h-1zM69 18h1v1h-1zM71 18h1v1h-1zM74 18h1v1h-1zM0 19h1v1h-1zM2 19h1v1h-1zM3 19h1v1h-1zM4 19h1v1h-1zM5 19h1v1h-1zM6 19h1v1h-1zM8 19h1v1h-1zM9 19h1v1h-1zM10 19h1v1h-1zM11 19h1v1h-1zM12 19h1v1h-1zM14 19h1v1h-1zM15 19h1v1h-1zM16 19h1v1h-1zM20 19h1v1h-1zM21 19h1v1h-1zM22 19h1v1h-1zM23 19h1v1h-1zM26 19h1v1h-1zM30 19h1v1h-1zM31 19h1v1h-1zM34 19h1v1h-1zM35 19h1v1h-1zM36 19h1v1h-1zM38 19h1v1h-1zM39 19h1v1h-1zM40 19h1v1h-1zM41 19h1v1h-1zM43 19h1v1h-1zM47 19h1v1h-1zM49 19h1v1h-1zM52 19h1v1h-1zM54 19h1v1h-1zM55 19h1v1h-1zM56 19h1v1h-1zM70 19h1v1h-1zM72 19h1v1h-1zM73 19h1v1h-1z"/><path fill="rgb(59, 80, 173)" d="M28 0h1v1h-1zM47 0h1v1h-1zM48 0h1v1h-1zM67 0h1v1h-1zM69 0h1v1h-1zM9 1h1v1h-1zM10 1h1v1h-1zM42 1h1v1h-1zM46 1h1v1h-1zM20 2h1v1h-1zM50 2h1v1h-1zM63 2h1v1h-1zM65 2h1v1h-1zM67 2h1v1h-1zM68 2h1v1h-1zM69 2h1v1h-1zM73 2h1v1h-1zM31 3h1v1h-1zM59 3h1v1h-1zM74 3h1v1h-1zM37 4h1v1h-1zM51 4h1v1h-1zM62 4h1v1h-1zM64 4h1v1h-1zM71 4h1v1h-1zM15 5h1v1h-1zM33 5h1v1h-1zM58 5h1v1h-1zM63 5h1v1h-1zM68 5h1v1h-1zM53 6h1v1h-1zM63 6h1v1h-1zM64 6h1v1h-1zM65 6h1v1h-1zM58 7h1v1h-1zM61 8h1v1h-1zM66 8h1v1h-1zM60 9h1v1h-1zM62 9h1v1h-1zM70 9h1v1h-1zM74 9h1v1h-1zM18 10h1v1h-1zM35 10h1v1h-1zM62 10h1v1h-1zM64 10h1v1h-1zM66 10h1v1h-1zM67 10h1v1h-1zM70 10h1v1h-1zM17 11h1v1h-1zM60 11h1v1h-1zM69 11h1v1h-1zM61 12h1v1h-1zM63 12h1v1h-1zM65 12h1v1h-1zM66 12h1v1h-1zM68 12h1v1h-1zM38 13h1v1h-1zM63 13h1v1h-1zM64 13h1v1h-1zM67 13h1v1h-1zM18 14h1v1h-1zM63 14h1v1h-1zM65 14h1v1h-1zM66 14h1v1h-1zM55 15h1v1h-1zM62 15h1v1h-1zM63 15h1v1h-1zM69 15h1v1h-1zM64 16h1v1h-1zM70 16h1v1h-1zM4 17h1v1h-1zM38 17h1v1h-1zM63 17h1v1h-1zM65 17h1v1h-1zM4 18h1v1h-1zM11 18h1v1h-1zM28 18h1v1h-1zM38 18h1v1h-1zM48 18h1v1h-1zM61 18h1v1h-1zM62 18h1v1h-1zM64 18h1v1h-1zM68 18h1v1h-1zM70 18h1v1h-1zM73 18h1v1h-1zM18 19h1v1h-1zM44 19h1v1h-1zM62 19h1v1h-1zM66 19h1v1h-1zM69 19h1v1h-1z"/><path fill="rgb(58, 87, 184)" d="M67 1h1v1h-1zM60 3h1v1h-1zM67 3h1v1h-1zM68 3h1v1h-1zM69 3h1v1h-1zM63 4h1v1h-1zM66 4h1v1h-1zM62 5h1v1h-1zM70 5h1v1h-1zM58 6h1v1h-1zM59 6h1v1h-1zM61 6h1v1h-1zM66 6h1v1h-1zM67 6h1v1h-1zM70 6h1v1h-1zM65 7h1v1h-1zM66 7h1v1h-1zM67 7h1v1h-1zM69 7h1v1h-1zM70 7h1v1h-1zM59 8h1v1h-1zM60 8h1v1h-1zM62 8h1v1h-1zM57 9h1v1h-1zM58 9h1v1h-1zM61 9h1v1h-1zM67 9h1v1h-1zM60 10h1v1h-1zM63 10h1v1h-1zM71 10h1v1h-1zM58 11h1v1h-1zM61 11h1v1h-1zM63 11h1v1h-1zM66 11h1v1h-1zM64 12h1v1h-1zM67 12h1v1h-1zM59 13h1v1h-1zM61 13h1v1h-1zM65 13h1v1h-1zM59 15h1v1h-1zM64 15h1v1h-1zM65 18h1v1h-1zM67 19h1v1h-1z"/><path fill="rgb(56, 94, 194)" d="M61 1h1v1h-1zM63 1h1v1h-1zM66 2h1v1h-1zM62 3h1v1h-1zM69 4h1v1h-1zM64 5h1v1h-1zM66 5h1v1h-1zM69 5h1v1h-1zM69 6h1v1h-1zM61 7h1v1h-1zM62 7h1v1h-1zM64 7h1v1h-1zM63 8h1v1h-1zM64 8h1v1h-1zM67 8h1v1h-1zM69 8h1v1h-1zM70 8h1v1h-1zM71 8h1v1h-1zM64 9h1v1h-1zM66 9h1v1h-1zM61 10h1v1h-1zM69 10h1v1h-1zM64 11h1v1h-1zM71 11h1v1h-1zM60 12h1v1h-1zM62 12h1v1h-1zM68 13h1v1h-1zM69 13h1v1h-1zM68 14h1v1h-1zM70 15h1v1h-1zM66 16h1v1h-1zM67 16h1v1h-1zM68 16h1v1h-1zM69 16h1v1h-1zM66 17h1v1h-1zM67 18h1v1h-1z"/><path fill="rgb(52, 125, 218)" d="M62 17h1v1h-1z"/><path fill="rgb(51, 138, 224)" d="M66 1h1v1h-1zM68 1h1v1h-1zM61 2h1v1h-1zM62 2h1v1h-1zM70 3h1v1h-1zM70 4h1v1h-1zM67 5h1v1h-1zM62 6h1v1h-1zM68 9h1v1h-1zM59 11h1v1h-1zM65 11h1v1h-1zM58 13h1v1h-1zM70 14h1v1h-1zM60 15h1v1h-1zM68 15h1v1h-1zM67 17h1v1h-1z"/><path fill="rgb(50, 150, 230)" d="M62 1h1v1h-1zM61 3h1v1h-1zM65 4h1v1h-1zM63 7h1v1h-1zM71 9h1v1h-1zM68 10h1v1h-1zM57 11h1v1h-1zM72 11h1v1h-1zM69 14h1v1h-1zM65 15h1v1h-1zM59 16h1v1h-1zM66 18h1v1h-1z"/><path fill="rgb(52, 161, 230)" d="M66 0h1v1h-1zM64 1h1v1h-1zM65 1h1v1h-1zM66 3h1v1h-1zM69 9h1v1h-1zM57 10h1v1h-1zM58 10h1v1h-1zM59 10h1v1h-1zM59 12h1v1h-1zM62 16h1v1h-1zM64 17h1v1h-1zM69 17h1v1h-1zM63 18h1v1h-1zM65 19h1v1h-1z"/><path fill="rgb(55, 172, 230)" d="M60 4h1v1h-1zM61 5h1v1h-1zM60 6h1v1h-1zM71 6h1v1h-1zM57 8h1v1h-1zM70 11h1v1h-1zM58 14h1v1h-1zM59 14h1v1h-1zM67 15h1v1h-1zM61 16h1v1h-1zM60 17h1v1h-1zM63 19h1v1h-1zM64 19h1v1h-1z"/><path fill="rgb(58, 184, 230)" d="M60 2h1v1h-1zM63 3h1v1h-1zM59 4h1v1h-1zM68 4h1v1h-1zM60 5h1v1h-1zM71 7h1v1h-1zM58 8h1v1h-1zM65 8h1v1h-1zM59 9h1v1h-1zM65 9h1v1h-1zM72 9h1v1h-1zM65 10h1v1h-1zM72 10h1v1h-1zM58 12h1v1h-1zM71 12h1v1h-1zM60 13h1v1h-1zM60 14h1v1h-1zM61 14h1v1h-1zM64 14h1v1h-1zM61 15h1v1h-1zM63 16h1v1h-1zM61 17h1v1h-1z"/><path fill="rgb(60, 195, 230)" d="M65 3h1v1h-1zM59 5h1v1h-1zM68 6h1v1h-1zM72 8h1v1h-1zM69 12h1v1h-1zM70 12h1v1h-1zM62 13h1v1h-1zM67 14h1v1h-1zM65 16h1v1h-1z"/><path fill="rgb(168, 222, 120)" d="M64 0h1v1h-1zM65 0h1v1h-1z"/><path fill="rgb(186, 225, 98)" d="M71 14h1v1h-1z"/><path fill="rgb(205, 228, 75)" d="M60 16h1v1h-1z"/><path fill="rgb(215, 224, 67)" d="M63 0h1v1h-1zM71 13h1v1h-1z"/><path fill="rgb(245, 158, 41)" d="M59 7h1v1h-1z"/><path fill="rgb(201, 50, 30)" d="M64 3h1v1h-1z"/></g></g>
<rect x="23.5" y="358.0" width="151.4" height="38.60000000000002" fill="none" stroke="#222" stroke-width="0.8"/>
<g filter="url(#bl)"><g transform="translate(22.1 456.4) scale(2.0280 1.9600)" shape-rendering="crispEdges"><path fill="rgb(54, 54, 144)" d="M26 2h1v1h-1zM29 2h1v1h-1zM62 2h1v1h-1zM27 3h1v1h-1zM59 3h1v1h-1zM67 3h1v1h-1zM21 5h1v1h-1zM59 5h1v1h-1zM21 6h1v1h-1zM22 6h1v1h-1zM68 6h1v1h-1zM21 7h1v1h-1zM33 7h1v1h-1zM57 7h1v1h-1zM69 7h1v1h-1zM56 9h1v1h-1zM20 10h1v1h-1zM34 10h1v1h-1zM70 10h1v1h-1zM21 11h1v1h-1zM35 11h1v1h-1zM70 12h1v1h-1zM34 13h1v1h-1zM34 14h1v1h-1zM32 15h1v1h-1zM23 16h1v1h-1zM25 16h1v1h-1zM27 16h1v1h-1zM26 17h1v1h-1zM27 17h1v1h-1zM64 17h1v1h-1z"/><path fill="rgb(56, 61, 150)" d="M25 2h1v1h-1zM30 2h1v1h-1zM63 2h1v1h-1zM65 2h1v1h-1zM28 3h1v1h-1zM29 3h1v1h-1zM31 3h1v1h-1zM32 3h1v1h-1zM61 3h1v1h-1zM62 3h1v1h-1zM63 3h1v1h-1zM65 3h1v1h-1zM66 3h1v1h-1zM22 4h1v1h-1zM23 4h1v1h-1zM24 4h1v1h-1zM31 4h1v1h-1zM32 4h1v1h-1zM58 4h1v1h-1zM59 4h1v1h-1zM66 4h1v1h-1zM23 5h1v1h-1zM33 5h1v1h-1zM34 5h1v1h-1zM57 5h1v1h-1zM58 5h1v1h-1zM67 5h1v1h-1zM33 6h1v1h-1zM58 6h1v1h-1zM69 6h1v1h-1zM22 7h1v1h-1zM34 7h1v1h-1zM56 7h1v1h-1zM34 8h1v1h-1zM35 8h1v1h-1zM69 8h1v1h-1zM20 9h1v1h-1zM57 9h1v1h-1zM70 9h1v1h-1zM21 10h1v1h-1zM57 10h1v1h-1zM20 11h1v1h-1zM34 12h1v1h-1zM35 12h1v1h-1zM58 13h1v1h-1zM68 13h1v1h-1zM21 14h1v1h-1zM22 14h1v1h-1zM32 14h1v1h-1zM59 14h1v1h-1zM67 14h1v1h-1zM31 15h1v1h-1zM33 15h1v1h-1zM58 15h1v1h-1zM60 15h1v1h-1zM24 16h1v1h-1zM26 16h1v1h-1zM28 16h1v1h-1zM29 16h1v1h-1zM30 16h1v1h-1zM32 16h1v1h-1zM59 16h1v1h-1zM61 16h1v1h-1zM63 16h1v1h-1zM25 17h1v1h-1zM29 17h1v1h-1zM30 17h1v1h-1zM63 17h1v1h-1zM65 17h1v1h-1z"/><path fill="rgb(58, 68, 156)" d="M27 2h1v1h-1zM28 2h1v1h-1zM61 2h1v1h-1zM64 2h1v1h-1zM23 3h1v1h-1zM24 3h1v1h-1zM25 3h1v1h-1zM26 3h1v1h-1zM30 3h1v1h-1zM60 3h1v1h-1zM29 4h1v1h-1zM30 4h1v1h-1zM33 4h1v1h-1zM60 4h1v1h-1zM65 4h1v1h-1zM67 4h1v1h-1zM22 5h1v1h-1zM30 5h1v1h-1zM31 5h1v1h-1zM32 5h1v1h-1zM63 5h1v1h-1zM68 5h1v1h-1zM69 5h1v1h-1zM27 6h1v1h-1zM28 6h1v1h-1zM31 6h1v1h-1zM32 6h1v1h-1zM34 6h1v1h-1zM57 6h1v1h-1zM59 6h1v1h-1zM60 6h1v1h-1zM62 6h1v1h-1zM66 6h1v1h-1zM25 7h1v1h-1zM35 7h1v1h-1zM58 7h1v1h-1zM63 7h1v1h-1zM67 7h1v1h-1zM70 7h1v1h-1zM20 8h1v1h-1zM21 8h1v1h-1zM26 8h1v1h-1zM28 8h1v1h-1zM31 8h1v1h-1zM32 8h1v1h-1zM56 8h1v1h-1zM64 8h1v1h-1zM66 8h1v1h-1zM67 8h1v1h-1zM70 8h1v1h-1zM21 9h1v1h-1zM24 9h1v1h-1zM27 9h1v1h-1zM29 9h1v1h-1zM31 9h1v1h-1zM33 9h1v1h-1zM34 9h1v1h-1zM35 9h1v1h-1zM61 9h1v1h-1zM65 9h1v1h-1zM69 9h1v1h-1zM22 10h1v1h-1zM23 10h1v1h-1zM27 10h1v1h-1zM32 10h1v1h-1zM35 10h1v1h-1zM56 10h1v1h-1zM68 10h1v1h-1zM69 10h1v1h-1zM24 11h1v1h-1zM29 11h1v1h-1zM34 11h1v1h-1zM57 11h1v1h-1zM59 11h1v1h-1zM61 11h1v1h-1zM66 11h1v1h-1zM69 11h1v1h-1zM70 11h1v1h-1zM21 12h1v1h-1zM22 12h1v1h-1zM27 12h1v1h-1zM28 12h1v1h-1zM32 12h1v1h-1zM33 12h1v1h-1zM56 12h1v1h-1zM57 12h1v1h-1zM60 12h1v1h-1zM61 12h1v1h-1zM63 12h1v1h-1zM66 12h1v1h-1zM69 12h1v1h-1zM21 13h1v1h-1zM22 13h1v1h-1zM24 13h1v1h-1zM26 13h1v1h-1zM29 13h1v1h-1zM32 13h1v1h-1zM33 13h1v1h-1zM60 13h1v1h-1zM65 13h1v1h-1zM69 13h1v1h-1zM23 14h1v1h-1zM28 14h1v1h-1zM29 14h1v1h-1zM30 14h1v1h-1zM33 14h1v1h-1zM57 14h1v1h-1zM58 14h1v1h-1zM62 14h1v1h-1zM63 14h1v1h-1zM64 14h1v1h-1zM68 14h1v1h-1zM22 15h1v1h-1zM23 15h1v1h-1zM24 15h1v1h-1zM26 15h1v1h-1zM28 15h1v1h-1zM29 15h1v1h-1zM30 15h1v1h-1zM59 15h1v1h-1zM61 15h1v1h-1zM63 15h1v1h-1zM66 15h1v1h-1zM67 15h1v1h-1zM68 15h1v1h-1zM31 16h1v1h-1zM62 16h1v1h-1zM64 16h1v1h-1zM66 16h1v1h-1zM28 17h1v1h-1zM61 17h1v1h-1zM62 17h1v1h-1z"/><path fill="rgb(60, 74, 162)" d="M71 0h1v1h-1zM0 1h1v1h-1zM14 1h1v1h-1zM29 1h1v1h-1zM52 1h1v1h-1zM72 1h1v1h-1zM73 1h1v1h-1zM19 2h1v1h-1zM53 2h1v1h-1zM17 3h1v1h-1zM36 3h1v1h-1zM25 4h1v1h-1zM27 4h1v1h-1zM40 4h1v1h-1zM62 4h1v1h-1zM63 4h1v1h-1zM64 4h1v1h-1zM0 5h1v1h-1zM24 5h1v1h-1zM25 5h1v1h-1zM28 5h1v1h-1zM60 5h1v1h-1zM61 5h1v1h-1zM64 5h1v1h-1zM66 5h1v1h-1zM24 6h1v1h-1zM25 6h1v1h-1zM26 6h1v1h-1zM30 6h1v1h-1zM61 6h1v1h-1zM63 6h1v1h-1zM65 6h1v1h-1zM17 7h1v1h-1zM19 7h1v1h-1zM23 7h1v1h-1zM24 7h1v1h-1zM26 7h1v1h-1zM27 7h1v1h-1zM28 7h1v1h-1zM29 7h1v1h-1zM30 7h1v1h-1zM32 7h1v1h-1zM61 7h1v1h-1zM62 7h1v1h-1zM66 7h1v1h-1zM25 8h1v1h-1zM27 8h1v1h-1zM29 8h1v1h-1zM30 8h1v1h-1zM58 8h1v1h-1zM59 8h1v1h-1zM61 8h1v1h-1zM62 8h1v1h-1zM63 8h1v1h-1zM22 9h1v1h-1zM23 9h1v1h-1zM26 9h1v1h-1zM28 9h1v1h-1zM30 9h1v1h-1zM32 9h1v1h-1zM62 9h1v1h-1zM64 9h1v1h-1zM68 9h1v1h-1zM72 9h1v1h-1zM24 10h1v1h-1zM28 10h1v1h-1zM29 10h1v1h-1zM30 10h1v1h-1zM31 10h1v1h-1zM33 10h1v1h-1zM58 10h1v1h-1zM61 10h1v1h-1zM65 10h1v1h-1zM66 10h1v1h-1zM18 11h1v1h-1zM26 11h1v1h-1zM28 11h1v1h-1zM30 11h1v1h-1zM32 11h1v1h-1zM58 11h1v1h-1zM60 11h1v1h-1zM62 11h1v1h-1zM67 11h1v1h-1zM30 12h1v1h-1zM58 12h1v1h-1zM59 12h1v1h-1zM67 12h1v1h-1zM68 12h1v1h-1zM74 12h1v1h-1zM23 13h1v1h-1zM25 13h1v1h-1zM28 13h1v1h-1zM30 13h1v1h-1zM31 13h1v1h-1zM37 13h1v1h-1zM59 13h1v1h-1zM61 13h1v1h-1zM64 13h1v1h-1zM66 13h1v1h-1zM67 13h1v1h-1zM24 14h1v1h-1zM26 14h1v1h-1zM27 14h1v1h-1zM56 14h1v1h-1zM60 14h1v1h-1zM65 14h1v1h-1zM66 14h1v1h-1zM27 15h1v1h-1zM39 15h1v1h-1zM64 15h1v1h-1zM65 15h1v1h-1zM73 16h1v1h-1zM52 17h1v1h-1zM68 17h1v1h-1zM23 18h1v1h-1zM28 18h1v1h-1zM35 18h1v1h-1zM20 19h1v1h-1zM32 19h1v1h-1zM50 19h1v1h-1zM60 19h1v1h-1zM61 19h1v1h-1z"/><path fill="rgb(59, 80, 173)" d="M0 0h1v1h-1zM13 0h1v1h-1zM14 0h1v1h-1zM15 0h1v1h-1zM22 0h1v1h-1zM24 0h1v1h-1zM25 0h1v1h-1zM26 0h1v1h-1zM28 0h1v1h-1zM31 0h1v1h-1zM32 0h1v1h-1zM34 0h1v1h-1zM35 0h1v1h-1zM36 0h1v1h-1zM37 0h1v1h-1zM38 0h1v1h-1zM41 0h1v1h-1zM44 0h1v1h-1zM49 0h1v1h-1zM51 0h1v1h-1zM55 0h1v1h-1zM59 0h1v1h-1zM61 0h1v1h-1zM62 0h1v1h-1zM63 0h1v1h-1zM65 0h1v1h-1zM66 0h1v1h-1zM67 0h1v1h-1zM72 0h1v1h-1zM73 0h1v1h-1zM74 0h1v1h-1zM2 1h1v1h-1zM3 1h1v1h-1zM16 1h1v1h-1zM19 1h1v1h-1zM20 1h1v1h-1zM21 1h1v1h-1zM22 1h1v1h-1zM24 1h1v1h-1zM26 1h1v1h-1zM27 1h1v1h-1zM28 1h1v1h-1zM30 1h1v1h-1zM31 1h1v1h-1zM32 1h1v1h-1zM35 1h1v1h-1zM37 1h1v1h-1zM39 1h1v1h-1zM42 1h1v1h-1zM50 1h1v1h-1zM51 1h1v1h-1zM54 1h1v1h-1zM59 1h1v1h-1zM63 1h1v1h-1zM65 1h1v1h-1zM66 1h1v1h-1zM69 1h1v1h-1zM71 1h1v1h-1zM74 1h1v1h-1zM0 2h1v1h-1zM2 2h1v1h-1zM17 2h1v1h-1zM20 2h1v1h-1zM22 2h1v1h-1zM23 2h1v1h-1zM24 2h1v1h-1zM36 2h1v1h-1zM40 2h1v1h-1zM51 2h1v1h-1zM52 2h1v1h-1zM55 2h1v1h-1zM56 2h1v1h-1zM69 2h1v1h-1zM71 2h1v1h-1zM73 2h1v1h-1zM1 3h1v1h-1zM6 3h1v1h-1zM16 3h1v1h-1zM19 3h1v1h-1zM20 3h1v1h-1zM21 3h1v1h-1zM35 3h1v1h-1zM38 3h1v1h-1zM41 3h1v1h-1zM53 3h1v1h-1zM55 3h1v1h-1zM57 3h1v1h-1zM68 3h1v1h-1zM71 3h1v1h-1zM74 3h1v1h-1zM0 4h1v1h-1zM15 4h1v1h-1zM17 4h1v1h-1zM18 4h1v1h-1zM19 4h1v1h-1zM21 4h1v1h-1zM28 4h1v1h-1zM34 4h1v1h-1zM35 4h1v1h-1zM52 4h1v1h-1zM56 4h1v1h-1zM69 4h1v1h-1zM72 4h1v1h-1zM73 4h1v1h-1zM1 5h1v1h-1zM16 5h1v1h-1zM17 5h1v1h-1zM18 5h1v1h-1zM26 5h1v1h-1zM27 5h1v1h-1zM29 5h1v1h-1zM35 5h1v1h-1zM36 5h1v1h-1zM53 5h1v1h-1zM54 5h1v1h-1zM62 5h1v1h-1zM70 5h1v1h-1zM71 5h1v1h-1zM74 5h1v1h-1zM0 6h1v1h-1zM16 6h1v1h-1zM20 6h1v1h-1zM23 6h1v1h-1zM35 6h1v1h-1zM37 6h1v1h-1zM39 6h1v1h-1zM67 6h1v1h-1zM70 6h1v1h-1zM72 6h1v1h-1zM74 6h1v1h-1zM31 7h1v1h-1zM36 7h1v1h-1zM37 7h1v1h-1zM39 7h1v1h-1zM53 7h1v1h-1zM59 7h1v1h-1zM64 7h1v1h-1zM65 7h1v1h-1zM68 7h1v1h-1zM72 7h1v1h-1zM73 7h1v1h-1zM16 8h1v1h-1zM18 8h1v1h-1zM22 8h1v1h-1zM23 8h1v1h-1zM33 8h1v1h-1zM37 8h1v1h-1zM53 8h1v1h-1zM60 8h1v1h-1zM65 8h1v1h-1zM68 8h1v1h-1zM74 8h1v1h-1zM0 9h1v1h-1zM16 9h1v1h-1zM17 9h1v1h-1zM25 9h1v1h-1zM38 9h1v1h-1zM58 9h1v1h-1zM59 9h1v1h-1zM63 9h1v1h-1zM66 9h1v1h-1zM71 9h1v1h-1zM74 9h1v1h-1zM0 10h1v1h-1zM18 10h1v1h-1zM19 10h1v1h-1zM25 10h1v1h-1zM26 10h1v1h-1zM37 10h1v1h-1zM59 10h1v1h-1zM60 10h1v1h-1zM62 10h1v1h-1zM63 10h1v1h-1zM64 10h1v1h-1zM67 10h1v1h-1zM10 11h1v1h-1zM19 11h1v1h-1zM22 11h1v1h-1zM23 11h1v1h-1zM27 11h1v1h-1zM31 11h1v1h-1zM33 11h1v1h-1zM37 11h1v1h-1zM39 11h1v1h-1zM63 11h1v1h-1zM72 11h1v1h-1zM73 11h1v1h-1zM74 11h1v1h-1zM17 12h1v1h-1zM18 12h1v1h-1zM20 12h1v1h-1zM23 12h1v1h-1zM24 12h1v1h-1zM25 12h1v1h-1zM26 12h1v1h-1zM31 12h1v1h-1zM65 12h1v1h-1zM16 13h1v1h-1zM18 13h1v1h-1zM19 13h1v1h-1zM20 13h1v1h-1zM27 13h1v1h-1zM38 13h1v1h-1zM54 13h1v1h-1zM55 13h1v1h-1zM56 13h1v1h-1zM62 13h1v1h-1zM63 13h1v1h-1zM73 13h1v1h-1zM0 14h1v1h-1zM17 14h1v1h-1zM25 14h1v1h-1zM31 14h1v1h-1zM35 14h1v1h-1zM53 14h1v1h-1zM54 14h1v1h-1zM55 14h1v1h-1zM61 14h1v1h-1zM71 14h1v1h-1zM73 14h1v1h-1zM17 15h1v1h-1zM18 15h1v1h-1zM19 15h1v1h-1zM25 15h1v1h-1zM34 15h1v1h-1zM36 15h1v1h-1zM54 15h1v1h-1zM57 15h1v1h-1zM69 15h1v1h-1zM73 15h1v1h-1zM74 15h1v1h-1zM19 16h1v1h-1zM33 16h1v1h-1zM37 16h1v1h-1zM38 16h1v1h-1zM39 16h1v1h-1zM52 16h1v1h-1zM54 16h1v1h-1zM55 16h1v1h-1zM56 16h1v1h-1zM57 16h1v1h-1zM58 16h1v1h-1zM70 16h1v1h-1zM71 16h1v1h-1zM72 16h1v1h-1zM18 17h1v1h-1zM22 17h1v1h-1zM31 17h1v1h-1zM34 17h1v1h-1zM35 17h1v1h-1zM37 17h1v1h-1zM38 17h1v1h-1zM53 17h1v1h-1zM55 17h1v1h-1zM56 17h1v1h-1zM57 17h1v1h-1zM59 17h1v1h-1zM66 17h1v1h-1zM69 17h1v1h-1zM71 17h1v1h-1zM73 17h1v1h-1zM74 17h1v1h-1zM15 18h1v1h-1zM16 18h1v1h-1zM18 18h1v1h-1zM19 18h1v1h-1zM22 18h1v1h-1zM25 18h1v1h-1zM26 18h1v1h-1zM27 18h1v1h-1zM29 18h1v1h-1zM33 18h1v1h-1zM37 18h1v1h-1zM40 18h1v1h-1zM41 18h1v1h-1zM50 18h1v1h-1zM53 18h1v1h-1zM56 18h1v1h-1zM57 18h1v1h-1zM60 18h1v1h-1zM64 18h1v1h-1zM65 18h1v1h-1zM67 18h1v1h-1zM69 18h1v1h-1zM74 18h1v1h-1zM13 19h1v1h-1zM14 19h1v1h-1zM15 19h1v1h-1zM25 19h1v1h-1zM29 19h1v1h-1zM30 19h1v1h-1zM34 19h1v1h-1zM36 19h1v1h-1zM37 19h1v1h-1zM38 19h1v1h-1zM43 19h1v1h-1zM52 19h1v1h-1zM54 19h1v1h-1zM55 19h1v1h-1zM57 19h1v1h-1zM59 19h1v1h-1zM64 19h1v1h-1zM65 19h1v1h-1zM66 19h1v1h-1zM67 19h1v1h-1zM68 19h1v1h-1zM69 19h1v1h-1zM73 19h1v1h-1z"/><path fill="rgb(58, 87, 184)" d="M1 0h1v1h-1zM2 0h1v1h-1zM3 0h1v1h-1zM7 0h1v1h-1zM16 0h1v1h-1zM17 0h1v1h-1zM19 0h1v1h-1zM20 0h1v1h-1zM21 0h1v1h-1zM23 0h1v1h-1zM27 0h1v1h-1zM29 0h1v1h-1zM30 0h1v1h-1zM33 0h1v1h-1zM39 0h1v1h-1zM42 0h1v1h-1zM48 0h1v1h-1zM50 0h1v1h-1zM53 0h1v1h-1zM54 0h1v1h-1zM56 0h1v1h-1zM57 0h1v1h-1zM58 0h1v1h-1zM60 0h1v1h-1zM64 0h1v1h-1zM68 0h1v1h-1zM69 0h1v1h-1zM70 0h1v1h-1zM15 1h1v1h-1zM17 1h1v1h-1zM18 1h1v1h-1zM23 1h1v1h-1zM25 1h1v1h-1zM36 1h1v1h-1zM38 1h1v1h-1zM41 1h1v1h-1zM53 1h1v1h-1zM55 1h1v1h-1zM56 1h1v1h-1zM58 1h1v1h-1zM60 1h1v1h-1zM61 1h1v1h-1zM62 1h1v1h-1zM64 1h1v1h-1zM68 1h1v1h-1zM70 1h1v1h-1zM15 2h1v1h-1zM16 2h1v1h-1zM18 2h1v1h-1zM21 2h1v1h-1zM31 2h1v1h-1zM32 2h1v1h-1zM33 2h1v1h-1zM34 2h1v1h-1zM37 2h1v1h-1zM38 2h1v1h-1zM39 2h1v1h-1zM54 2h1v1h-1zM57 2h1v1h-1zM59 2h1v1h-1zM60 2h1v1h-1zM66 2h1v1h-1zM67 2h1v1h-1zM70 2h1v1h-1zM72 2h1v1h-1zM74 2h1v1h-1zM15 3h1v1h-1zM18 3h1v1h-1zM22 3h1v1h-1zM33 3h1v1h-1zM34 3h1v1h-1zM37 3h1v1h-1zM39 3h1v1h-1zM40 3h1v1h-1zM52 3h1v1h-1zM54 3h1v1h-1zM56 3h1v1h-1zM58 3h1v1h-1zM69 3h1v1h-1zM70 3h1v1h-1zM72 3h1v1h-1zM73 3h1v1h-1zM1 4h1v1h-1zM16 4h1v1h-1zM20 4h1v1h-1zM37 4h1v1h-1zM38 4h1v1h-1zM39 4h1v1h-1zM53 4h1v1h-1zM54 4h1v1h-1zM55 4h1v1h-1zM57 4h1v1h-1zM70 4h1v1h-1zM74 4h1v1h-1zM20 5h1v1h-1zM39 5h1v1h-1zM40 5h1v1h-1zM55 5h1v1h-1zM72 5h1v1h-1zM73 5h1v1h-1zM17 6h1v1h-1zM38 6h1v1h-1zM53 6h1v1h-1zM56 6h1v1h-1zM71 6h1v1h-1zM73 6h1v1h-1zM0 7h1v1h-1zM16 7h1v1h-1zM18 7h1v1h-1zM20 7h1v1h-1zM38 7h1v1h-1zM54 7h1v1h-1zM55 7h1v1h-1zM71 7h1v1h-1zM0 8h1v1h-1zM17 8h1v1h-1zM19 8h1v1h-1zM38 8h1v1h-1zM39 8h1v1h-1zM55 8h1v1h-1zM71 8h1v1h-1zM72 8h1v1h-1zM73 8h1v1h-1zM18 9h1v1h-1zM19 9h1v1h-1zM36 9h1v1h-1zM39 9h1v1h-1zM73 9h1v1h-1zM1 10h1v1h-1zM15 10h1v1h-1zM17 10h1v1h-1zM36 10h1v1h-1zM38 10h1v1h-1zM54 10h1v1h-1zM55 10h1v1h-1zM71 10h1v1h-1zM72 10h1v1h-1zM73 10h1v1h-1zM74 10h1v1h-1zM0 11h1v1h-1zM17 11h1v1h-1zM36 11h1v1h-1zM38 11h1v1h-1zM54 11h1v1h-1zM16 12h1v1h-1zM19 12h1v1h-1zM36 12h1v1h-1zM37 12h1v1h-1zM38 12h1v1h-1zM39 12h1v1h-1zM54 12h1v1h-1zM55 12h1v1h-1zM71 12h1v1h-1zM73 12h1v1h-1zM0 13h1v1h-1zM17 13h1v1h-1zM36 13h1v1h-1zM70 13h1v1h-1zM71 13h1v1h-1zM72 13h1v1h-1zM74 13h1v1h-1zM3 14h1v1h-1zM16 14h1v1h-1zM19 14h1v1h-1zM20 14h1v1h-1zM36 14h1v1h-1zM37 14h1v1h-1zM38 14h1v1h-1zM39 14h1v1h-1zM70 14h1v1h-1zM72 14h1v1h-1zM74 14h1v1h-1zM0 15h1v1h-1zM10 15h1v1h-1zM12 15h1v1h-1zM16 15h1v1h-1zM20 15h1v1h-1zM21 15h1v1h-1zM35 15h1v1h-1zM37 15h1v1h-1zM38 15h1v1h-1zM53 15h1v1h-1zM55 15h1v1h-1zM71 15h1v1h-1zM0 16h1v1h-1zM16 16h1v1h-1zM17 16h1v1h-1zM18 16h1v1h-1zM20 16h1v1h-1zM21 16h1v1h-1zM34 16h1v1h-1zM36 16h1v1h-1zM40 16h1v1h-1zM53 16h1v1h-1zM68 16h1v1h-1zM69 16h1v1h-1zM0 17h1v1h-1zM15 17h1v1h-1zM17 17h1v1h-1zM19 17h1v1h-1zM20 17h1v1h-1zM21 17h1v1h-1zM23 17h1v1h-1zM24 17h1v1h-1zM33 17h1v1h-1zM36 17h1v1h-1zM39 17h1v1h-1zM54 17h1v1h-1zM58 17h1v1h-1zM60 17h1v1h-1zM67 17h1v1h-1zM70 17h1v1h-1zM72 17h1v1h-1zM0 18h1v1h-1zM11 18h1v1h-1zM12 18h1v1h-1zM17 18h1v1h-1zM20 18h1v1h-1zM24 18h1v1h-1zM31 18h1v1h-1zM32 18h1v1h-1zM34 18h1v1h-1zM36 18h1v1h-1zM42 18h1v1h-1zM51 18h1v1h-1zM52 18h1v1h-1zM54 18h1v1h-1zM55 18h1v1h-1zM58 18h1v1h-1zM59 18h1v1h-1zM62 18h1v1h-1zM63 18h1v1h-1zM66 18h1v1h-1zM70 18h1v1h-1zM71 18h1v1h-1zM0 19h1v1h-1zM8 19h1v1h-1zM9 19h1v1h-1zM16 19h1v1h-1zM17 19h1v1h-1zM18 19h1v1h-1zM19 19h1v1h-1zM24 19h1v1h-1zM26 19h1v1h-1zM27 19h1v1h-1zM28 19h1v1h-1zM31 19h1v1h-1zM33 19h1v1h-1zM35 19h1v1h-1zM41 19h1v1h-1zM49 19h1v1h-1zM51 19h1v1h-1zM56 19h1v1h-1zM58 19h1v1h-1zM62 19h1v1h-1zM63 19h1v1h-1zM70 19h1v1h-1zM71 19h1v1h-1zM72 19h1v1h-1z"/><path fill="rgb(56, 94, 194)" d="M18 0h1v1h-1zM40 0h1v1h-1zM43 0h1v1h-1zM52 0h1v1h-1zM1 1h1v1h-1zM4 1h1v1h-1zM5 1h1v1h-1zM12 1h1v1h-1zM33 1h1v1h-1zM34 1h1v1h-1zM40 1h1v1h-1zM57 1h1v1h-1zM67 1h1v1h-1zM1 2h1v1h-1zM35 2h1v1h-1zM41 2h1v1h-1zM58 2h1v1h-1zM68 2h1v1h-1zM0 3h1v1h-1zM36 4h1v1h-1zM71 4h1v1h-1zM19 5h1v1h-1zM37 5h1v1h-1zM38 5h1v1h-1zM56 5h1v1h-1zM18 6h1v1h-1zM19 6h1v1h-1zM36 6h1v1h-1zM54 6h1v1h-1zM55 6h1v1h-1zM74 7h1v1h-1zM15 8h1v1h-1zM36 8h1v1h-1zM54 8h1v1h-1zM37 9h1v1h-1zM54 9h1v1h-1zM55 9h1v1h-1zM7 11h1v1h-1zM55 11h1v1h-1zM71 11h1v1h-1zM0 12h1v1h-1zM72 12h1v1h-1zM35 13h1v1h-1zM39 13h1v1h-1zM53 13h1v1h-1zM18 14h1v1h-1zM56 15h1v1h-1zM70 15h1v1h-1zM72 15h1v1h-1zM22 16h1v1h-1zM35 16h1v1h-1zM74 16h1v1h-1zM16 17h1v1h-1zM32 17h1v1h-1zM40 17h1v1h-1zM41 17h1v1h-1zM51 17h1v1h-1zM21 18h1v1h-1zM30 18h1v1h-1zM38 18h1v1h-1zM39 18h1v1h-1zM61 18h1v1h-1zM68 18h1v1h-1zM72 18h1v1h-1zM73 18h1v1h-1zM12 19h1v1h-1zM21 19h1v1h-1zM22 19h1v1h-1zM23 19h1v1h-1zM39 19h1v1h-1zM40 19h1v1h-1zM42 19h1v1h-1zM53 19h1v1h-1zM74 19h1v1h-1z"/><path fill="rgb(55, 100, 205)" d="M8 3h1v1h-1z"/><path fill="rgb(54, 112, 211)" d="M12 2h1v1h-1zM2 4h1v1h-1zM4 5h1v1h-1zM14 11h1v1h-1z"/><path fill="rgb(52, 125, 218)" d="M11 6h1v1h-1zM13 6h1v1h-1zM11 8h1v1h-1zM8 18h1v1h-1z"/><path fill="rgb(51, 138, 224)" d="M45 13h1v1h-1z"/><path fill="rgb(50, 150, 230)" d="M68 4h1v1h-1zM41 7h1v1h-1zM49 7h1v1h-1zM49 15h1v1h-1zM62 15h1v1h-1zM50 16h1v1h-1z"/><path fill="rgb(52, 161, 230)" d="M44 2h1v1h-1zM26 4h1v1h-1zM29 6h1v1h-1zM64 6h1v1h-1zM60 7h1v1h-1zM24 8h1v1h-1zM60 9h1v1h-1zM67 9h1v1h-1zM25 11h1v1h-1zM64 11h1v1h-1zM65 11h1v1h-1zM29 12h1v1h-1zM48 12h1v1h-1zM62 12h1v1h-1zM57 13h1v1h-1zM65 16h1v1h-1z"/><path fill="rgb(55, 172, 230)" d="M64 3h1v1h-1zM3 5h1v1h-1zM65 5h1v1h-1zM5 8h1v1h-1zM57 8h1v1h-1zM6 10h1v1h-1zM2 11h1v1h-1zM68 11h1v1h-1zM64 12h1v1h-1zM69 14h1v1h-1zM60 16h1v1h-1zM7 19h1v1h-1zM10 19h1v1h-1z"/><path fill="rgb(58, 184, 230)" d="M5 0h1v1h-1zM6 0h1v1h-1zM9 1h1v1h-1zM10 1h1v1h-1zM11 1h1v1h-1zM43 1h1v1h-1zM6 2h1v1h-1zM7 2h1v1h-1zM2 3h1v1h-1zM9 3h1v1h-1zM11 3h1v1h-1zM42 3h1v1h-1zM61 4h1v1h-1zM1 6h1v1h-1zM5 6h1v1h-1zM7 6h1v1h-1zM15 6h1v1h-1zM48 6h1v1h-1zM3 7h1v1h-1zM4 7h1v1h-1zM11 7h1v1h-1zM6 8h1v1h-1zM7 8h1v1h-1zM10 8h1v1h-1zM6 9h1v1h-1zM47 9h1v1h-1zM2 10h1v1h-1zM9 10h1v1h-1zM14 10h1v1h-1zM16 10h1v1h-1zM1 11h1v1h-1zM5 11h1v1h-1zM6 11h1v1h-1zM8 11h1v1h-1zM9 11h1v1h-1zM15 11h1v1h-1zM16 11h1v1h-1zM56 11h1v1h-1zM2 12h1v1h-1zM4 12h1v1h-1zM7 12h1v1h-1zM9 12h1v1h-1zM40 12h1v1h-1zM6 13h1v1h-1zM10 13h1v1h-1zM4 14h1v1h-1zM12 14h1v1h-1zM13 14h1v1h-1zM15 14h1v1h-1zM2 15h1v1h-1zM3 15h1v1h-1zM9 15h1v1h-1zM11 15h1v1h-1zM15 15h1v1h-1zM1 16h1v1h-1zM3 16h1v1h-1zM15 16h1v1h-1zM51 16h1v1h-1zM67 16h1v1h-1zM3 17h1v1h-1zM2 18h1v1h-1zM7 18h1v1h-1zM9 18h1v1h-1zM13 18h1v1h-1zM14 18h1v1h-1zM2 19h1v1h-1zM4 19h1v1h-1z"/><path fill="rgb(60, 195, 230)" d="M11 0h1v1h-1zM12 0h1v1h-1zM8 1h1v1h-1zM49 1h1v1h-1zM5 2h1v1h-1zM9 2h1v1h-1zM10 2h1v1h-1zM50 2h1v1h-1zM4 3h1v1h-1zM5 3h1v1h-1zM10 3h1v1h-1zM14 3h1v1h-1zM3 4h1v1h-1zM8 4h1v1h-1zM11 4h1v1h-1zM14 4h1v1h-1zM2 5h1v1h-1zM7 5h1v1h-1zM8 5h1v1h-1zM12 5h1v1h-1zM13 5h1v1h-1zM15 5h1v1h-1zM49 5h1v1h-1zM52 5h1v1h-1zM2 6h1v1h-1zM3 6h1v1h-1zM9 6h1v1h-1zM10 6h1v1h-1zM12 6h1v1h-1zM14 6h1v1h-1zM1 7h1v1h-1zM5 7h1v1h-1zM12 7h1v1h-1zM12 8h1v1h-1zM14 8h1v1h-1zM2 9h1v1h-1zM5 9h1v1h-1zM9 9h1v1h-1zM14 9h1v1h-1zM15 9h1v1h-1zM3 10h1v1h-1zM8 10h1v1h-1zM6 12h1v1h-1zM10 12h1v1h-1zM15 12h1v1h-1zM53 12h1v1h-1zM1 13h1v1h-1zM9 13h1v1h-1zM13 13h1v1h-1zM6 14h1v1h-1zM7 14h1v1h-1zM11 14h1v1h-1zM6 15h1v1h-1zM14 15h1v1h-1zM4 16h1v1h-1zM6 16h1v1h-1zM7 16h1v1h-1zM11 16h1v1h-1zM4 17h1v1h-1zM7 17h1v1h-1zM11 17h1v1h-1zM1 18h1v1h-1zM5 18h1v1h-1zM10 18h1v1h-1zM44 18h1v1h-1zM48 19h1v1h-1z"/><path fill="rgb(77, 200, 214)" d="M9 0h1v1h-1zM10 0h1v1h-1zM7 1h1v1h-1zM13 1h1v1h-1zM3 2h1v1h-1zM4 2h1v1h-1zM11 2h1v1h-1zM7 3h1v1h-1zM12 3h1v1h-1zM13 3h1v1h-1zM4 4h1v1h-1zM7 4h1v1h-1zM9 4h1v1h-1zM12 4h1v1h-1zM9 5h1v1h-1zM14 5h1v1h-1zM4 6h1v1h-1zM6 6h1v1h-1zM8 6h1v1h-1zM8 7h1v1h-1zM9 7h1v1h-1zM13 7h1v1h-1zM14 7h1v1h-1zM15 7h1v1h-1zM2 8h1v1h-1zM4 8h1v1h-1zM4 10h1v1h-1zM10 10h1v1h-1zM46 10h1v1h-1zM3 11h1v1h-1zM11 11h1v1h-1zM1 12h1v1h-1zM3 12h1v1h-1zM2 13h1v1h-1zM12 13h1v1h-1zM42 13h1v1h-1zM1 14h1v1h-1zM10 14h1v1h-1zM14 14h1v1h-1zM1 15h1v1h-1zM13 15h1v1h-1zM5 16h1v1h-1zM1 17h1v1h-1zM2 17h1v1h-1zM6 17h1v1h-1zM8 17h1v1h-1zM12 17h1v1h-1zM14 17h1v1h-1zM45 17h1v1h-1zM50 17h1v1h-1zM3 19h1v1h-1zM5 19h1v1h-1zM44 19h1v1h-1zM46 19h1v1h-1z"/><path fill="rgb(95, 205, 198)" d="M8 0h1v1h-1zM6 1h1v1h-1zM14 2h1v1h-1zM5 4h1v1h-1zM10 4h1v1h-1zM6 5h1v1h-1zM10 5h1v1h-1zM11 5h1v1h-1zM2 7h1v1h-1zM7 7h1v1h-1zM10 7h1v1h-1zM40 7h1v1h-1zM1 8h1v1h-1zM1 9h1v1h-1zM4 9h1v1h-1zM10 9h1v1h-1zM12 10h1v1h-1zM4 11h1v1h-1zM12 11h1v1h-1zM53 11h1v1h-1zM5 12h1v1h-1zM12 12h1v1h-1zM7 13h1v1h-1zM5 14h1v1h-1zM8 14h1v1h-1zM40 14h1v1h-1zM52 15h1v1h-1zM2 16h1v1h-1zM10 17h1v1h-1zM13 17h1v1h-1zM48 17h1v1h-1zM3 18h1v1h-1zM4 18h1v1h-1zM6 19h1v1h-1zM11 19h1v1h-1z"/><path fill="rgb(112, 210, 181)" d="M46 0h1v1h-1zM44 1h1v1h-1zM48 1h1v1h-1zM51 4h1v1h-1zM40 13h1v1h-1z"/><path fill="rgb(130, 215, 165)" d="M50 3h1v1h-1zM41 4h1v1h-1zM46 4h1v1h-1zM42 5h1v1h-1zM50 5h1v1h-1zM40 6h1v1h-1zM50 7h1v1h-1zM45 14h1v1h-1zM48 14h1v1h-1zM49 17h1v1h-1z"/><path fill="rgb(149, 218, 142)" d="M8 2h1v1h-1zM13 2h1v1h-1zM47 2h1v1h-1zM48 2h1v1h-1zM45 3h1v1h-1zM44 5h1v1h-1zM51 5h1v1h-1zM47 8h1v1h-1zM13 9h1v1h-1zM40 9h1v1h-1zM48 10h1v1h-1zM41 11h1v1h-1zM11 12h1v1h-1zM4 15h1v1h-1zM5 15h1v1h-1zM7 15h1v1h-1zM9 16h1v1h-1zM14 16h1v1h-1zM9 17h1v1h-1zM46 17h1v1h-1z"/><path fill="rgb(168, 222, 120)" d="M4 0h1v1h-1zM6 4h1v1h-1zM50 4h1v1h-1zM5 5h1v1h-1zM43 5h1v1h-1zM43 6h1v1h-1zM44 6h1v1h-1zM6 7h1v1h-1zM3 8h1v1h-1zM42 8h1v1h-1zM52 8h1v1h-1zM7 9h1v1h-1zM8 9h1v1h-1zM12 9h1v1h-1zM50 9h1v1h-1zM5 10h1v1h-1zM11 10h1v1h-1zM45 10h1v1h-1zM49 10h1v1h-1zM50 10h1v1h-1zM8 12h1v1h-1zM13 12h1v1h-1zM49 12h1v1h-1zM3 13h1v1h-1zM14 13h1v1h-1zM44 13h1v1h-1zM50 13h1v1h-1zM9 14h1v1h-1zM49 14h1v1h-1zM12 16h1v1h-1zM43 17h1v1h-1zM6 18h1v1h-1z"/><path fill="rgb(186, 225, 98)" d="M13 4h1v1h-1zM45 5h1v1h-1zM3 9h1v1h-1zM11 9h1v1h-1zM13 10h1v1h-1zM44 10h1v1h-1zM13 11h1v1h-1zM44 11h1v1h-1zM47 14h1v1h-1zM43 15h1v1h-1zM13 16h1v1h-1zM47 17h1v1h-1zM1 19h1v1h-1z"/><path fill="rgb(205, 228, 75)" d="M47 0h1v1h-1zM49 2h1v1h-1zM3 3h1v1h-1zM47 3h1v1h-1zM49 3h1v1h-1zM45 4h1v1h-1zM42 6h1v1h-1zM49 6h1v1h-1zM48 7h1v1h-1zM8 8h1v1h-1zM9 8h1v1h-1zM13 8h1v1h-1zM45 8h1v1h-1zM47 10h1v1h-1zM51 11h1v1h-1zM14 12h1v1h-1zM45 12h1v1h-1zM4 13h1v1h-1zM5 13h1v1h-1zM8 13h1v1h-1zM47 13h1v1h-1zM41 14h1v1h-1zM44 14h1v1h-1zM40 15h1v1h-1zM10 16h1v1h-1zM49 16h1v1h-1zM43 18h1v1h-1zM46 18h1v1h-1z"/><path fill="rgb(215, 224, 67)" d="M46 1h1v1h-1zM42 2h1v1h-1zM46 3h1v1h-1zM46 5h1v1h-1zM46 6h1v1h-1zM47 6h1v1h-1zM52 6h1v1h-1zM42 7h1v1h-1zM43 7h1v1h-1zM51 7h1v1h-1zM41 8h1v1h-1zM46 8h1v1h-1zM49 8h1v1h-1zM41 9h1v1h-1zM44 9h1v1h-1zM48 9h1v1h-1zM49 9h1v1h-1zM51 9h1v1h-1zM53 9h1v1h-1zM7 10h1v1h-1zM39 10h1v1h-1zM40 10h1v1h-1zM41 10h1v1h-1zM51 10h1v1h-1zM52 10h1v1h-1zM42 11h1v1h-1zM47 11h1v1h-1zM49 11h1v1h-1zM46 12h1v1h-1zM51 12h1v1h-1zM11 13h1v1h-1zM15 13h1v1h-1zM41 13h1v1h-1zM48 13h1v1h-1zM2 14h1v1h-1zM8 15h1v1h-1zM48 15h1v1h-1zM51 15h1v1h-1zM8 16h1v1h-1zM42 16h1v1h-1zM48 16h1v1h-1zM5 17h1v1h-1zM42 17h1v1h-1zM45 18h1v1h-1z"/><path fill="rgb(225, 219, 60)" d="M45 0h1v1h-1zM43 2h1v1h-1zM48 4h1v1h-1zM48 5h1v1h-1zM45 6h1v1h-1zM44 7h1v1h-1zM47 7h1v1h-1zM52 7h1v1h-1zM40 8h1v1h-1zM43 8h1v1h-1zM50 8h1v1h-1zM45 9h1v1h-1zM52 9h1v1h-1zM43 10h1v1h-1zM52 11h1v1h-1zM41 12h1v1h-1zM41 15h1v1h-1z"/><path fill="rgb(245, 210, 45)" d="M50 12h1v1h-1zM43 13h1v1h-1zM51 13h1v1h-1z"/><path fill="rgb(245, 192, 44)" d="M49 4h1v1h-1zM51 6h1v1h-1zM45 7h1v1h-1zM46 7h1v1h-1zM53 10h1v1h-1zM44 12h1v1h-1zM42 14h1v1h-1zM47 16h1v1h-1z"/><path fill="rgb(245, 175, 42)" d="M43 4h1v1h-1zM47 4h1v1h-1zM43 9h1v1h-1zM40 11h1v1h-1zM46 11h1v1h-1zM49 13h1v1h-1zM48 18h1v1h-1z"/><path fill="rgb(245, 158, 41)" d="M44 4h1v1h-1zM44 8h1v1h-1zM45 11h1v1h-1zM48 11h1v1h-1zM42 12h1v1h-1z"/><path fill="rgb(245, 140, 40)" d="M46 2h1v1h-1zM42 4h1v1h-1zM41 5h1v1h-1zM47 5h1v1h-1zM43 11h1v1h-1zM47 12h1v1h-1zM46 13h1v1h-1z"/><path fill="rgb(242, 123, 38)" d="M48 3h1v1h-1zM51 3h1v1h-1zM42 9h1v1h-1zM46 9h1v1h-1zM52 13h1v1h-1zM46 14h1v1h-1zM45 15h1v1h-1z"/><path fill="rgb(238, 105, 35)" d="M45 2h1v1h-1zM50 11h1v1h-1zM52 12h1v1h-1zM52 14h1v1h-1zM42 15h1v1h-1zM47 15h1v1h-1zM50 15h1v1h-1zM43 16h1v1h-1zM44 17h1v1h-1zM47 18h1v1h-1zM49 18h1v1h-1zM45 19h1v1h-1z"/><path fill="rgb(235, 88, 32)" d="M44 3h1v1h-1zM50 6h1v1h-1zM48 8h1v1h-1zM51 8h1v1h-1zM42 10h1v1h-1zM50 14h1v1h-1zM51 14h1v1h-1zM44 15h1v1h-1zM46 15h1v1h-1zM44 16h1v1h-1zM45 16h1v1h-1zM47 19h1v1h-1z"/><path fill="rgb(232, 70, 30)" d="M45 1h1v1h-1zM47 1h1v1h-1zM43 3h1v1h-1zM41 6h1v1h-1zM43 12h1v1h-1zM43 14h1v1h-1zM41 16h1v1h-1zM46 16h1v1h-1z"/></g></g>
<rect x="22.1" y="456.4" width="152.1" height="39.200000000000045" fill="none" stroke="#222" stroke-width="0.8"/>
<defs><linearGradient id="jet" x1="0" y1="1" x2="0" y2="0"><stop offset="0" stop-color="rgb(40, 45, 140)"/><stop offset="0.12" stop-color="rgb(50, 80, 190)"/><stop offset="0.3" stop-color="rgb(50, 170, 230)"/><stop offset="0.45" stop-color="rgb(140, 215, 150)"/><stop offset="0.6" stop-color="rgb(240, 225, 40)"/><stop offset="0.74" stop-color="rgb(245, 150, 40)"/><stop offset="0.88" stop-color="rgb(230, 60, 30)"/><stop offset="1" stop-color="rgb(130, 20, 20)"/></linearGradient></defs>
<rect x="180.4" y="261.6" width="3.8" height="38.6" fill="url(#jet)" stroke="#222" stroke-width="0.9"/>
<text x="175.9" y="259.2" font-size="6.4" fill="#222" font-family='"Liberation Sans", sans-serif' font-weight="normal" text-anchor="start" textLength="12.2" lengthAdjust="spacingAndGlyphs" stroke="#222" stroke-width="0.15" >max</text>
<rect x="148.9" y="305.6" width="20" height="3.2" fill="#111"/>
<text x="151" y="318.8" font-size="6.6" fill="#222" font-family='"Liberation Sans", sans-serif' font-weight="normal" text-anchor="start" textLength="22" lengthAdjust="spacingAndGlyphs" >2.5 mm</text>
<path d="M213.4 242.8V312.6H391" fill="none" stroke="#9a9aa8" stroke-width="0.8"/>
<text x="207.4" y="259.0" font-size="6.3" fill="#222" font-family='"Liberation Sans", sans-serif' font-weight="normal" text-anchor="end" stroke="#222" stroke-width="0.2" >0.04</text>
<path d="M211.8 256.8h1.6" stroke="#999" stroke-width="0.6"/>
<text x="207.4" y="286.8" font-size="6.3" fill="#222" font-family='"Liberation Sans", sans-serif' font-weight="normal" text-anchor="end" stroke="#222" stroke-width="0.2" >0.02</text>
<path d="M211.8 284.6h1.6" stroke="#999" stroke-width="0.6"/>
<text x="207.4" y="314.8" font-size="6.3" fill="#222" font-family='"Liberation Sans", sans-serif' font-weight="normal" text-anchor="end" stroke="#222" stroke-width="0.2" >0.00</text>
<path d="M211.8 312.6h1.6" stroke="#999" stroke-width="0.6"/>
<text x="213.3" y="320.9" font-size="6.3" fill="#222" font-family='"Liberation Sans", sans-serif' font-weight="normal" text-anchor="middle" stroke="#222" stroke-width="0.2" >600</text>
<path d="M213.3 312.6v-1.5" stroke="#777" stroke-width="0.6"/>
<text x="238.3" y="320.9" font-size="6.3" fill="#222" font-family='"Liberation Sans", sans-serif' font-weight="normal" text-anchor="middle" stroke="#222" stroke-width="0.2" >800</text>
<path d="M238.3 312.6v-1.5" stroke="#777" stroke-width="0.6"/>
<text x="263.3" y="320.9" font-size="6.3" fill="#222" font-family='"Liberation Sans", sans-serif' font-weight="normal" text-anchor="middle" stroke="#222" stroke-width="0.2" >1000</text>
<path d="M263.3 312.6v-1.5" stroke="#777" stroke-width="0.6"/>
<text x="288.3" y="320.9" font-size="6.3" fill="#222" font-family='"Liberation Sans", sans-serif' font-weight="normal" text-anchor="middle" stroke="#222" stroke-width="0.2" >1200</text>
<path d="M288.3 312.6v-1.5" stroke="#777" stroke-width="0.6"/>
<text x="313.3" y="320.9" font-size="6.3" fill="#222" font-family='"Liberation Sans", sans-serif' font-weight="normal" text-anchor="middle" stroke="#222" stroke-width="0.2" >1400</text>
<path d="M313.3 312.6v-1.5" stroke="#777" stroke-width="0.6"/>
<text x="338.3" y="320.9" font-size="6.3" fill="#222" font-family='"Liberation Sans", sans-serif' font-weight="normal" text-anchor="middle" stroke="#222" stroke-width="0.2" >1600</text>
<path d="M338.3 312.6v-1.5" stroke="#777" stroke-width="0.6"/>
<text x="363.3" y="320.9" font-size="6.3" fill="#222" font-family='"Liberation Sans", sans-serif' font-weight="normal" text-anchor="middle" stroke="#222" stroke-width="0.2" >1800</text>
<path d="M363.3 312.6v-1.5" stroke="#777" stroke-width="0.6"/>
<path d="M225.8 312.6v-1" stroke="#777" stroke-width="0.6"/>
<path d="M250.8 312.6v-1" stroke="#777" stroke-width="0.6"/>
<path d="M275.8 312.6v-1" stroke="#777" stroke-width="0.6"/>
<path d="M300.8 312.6v-1" stroke="#777" stroke-width="0.6"/>
<path d="M325.8 312.6v-1" stroke="#777" stroke-width="0.6"/>
<path d="M350.8 312.6v-1" stroke="#777" stroke-width="0.6"/>
<path d="M375.8 312.6v-1" stroke="#777" stroke-width="0.6"/>
<path d="M213.4 312.6 213.4 312.4 213.8 312.2 214.2 312.2 214.6 312.3 215.0 312.3 215.4 312.2 215.8 312.2 216.2 312.3 216.6 312.3 217.0 312.3 217.4 312.4 217.8 312.3 218.2 312.2 218.6 312.4 219.0 312.2 219.4 312.3 219.8 312.3 220.2 312.4 220.6 312.1 221.0 312.2 221.4 312.2 221.8 312.2 222.2 312.4 222.6 312.3 223.0 312.3 223.4 312.4 223.8 312.1 224.2 312.3 224.6 312.3 225.0 312.2 225.4 312.3 225.8 312.2 226.2 312.3 226.6 312.2 227.0 312.3 227.4 312.3 227.8 312.3 228.2 312.4 228.6 312.2 229.0 312.3 229.4 312.2 229.8 312.3 230.2 312.1 230.6 312.1 231.0 312.2 231.4 312.2 231.8 312.2 232.2 312.2 232.6 312.3 233.0 312.2 233.4 312.2 233.8 312.3 234.2 312.1 234.6 312.1 235.0 312.3 235.4 312.3 235.8 312.2 236.2 312.3 236.6 312.1 237.0 312.3 237.4 312.3 237.8 312.3 238.2 312.2 238.6 312.1 239.0 312.2 239.4 312.2 239.8 312.2 240.2 312.2 240.6 312.3 241.0 312.2 241.4 312.2 241.8 312.2 242.2 312.3 242.6 312.3 243.0 312.3 243.4 312.1 243.8 312.3 244.2 312.2 244.6 312.3 245.0 312.3 245.4 312.3 245.8 312.1 246.2 312.1 246.6 312.2 247.0 312.2 247.4 312.2 247.8 312.1 248.2 312.1 248.6 312.2 249.0 312.1 249.4 312.1 249.8 312.2 250.2 312.1 250.6 312.2 251.0 312.2 251.4 312.3 251.8 312.1 252.2 312.3 252.6 312.3 253.0 312.1 253.4 312.1 253.8 312.2 254.2 312.1 254.6 312.3 255.0 312.2 255.4 312.2 255.8 312.2 256.2 312.3 256.6 312.3 257.0 312.2 257.4 312.1 257.8 312.1 258.2 312.1 258.6 312.2 259.0 312.2 259.4 312.1 259.8 312.2 260.2 312.1 260.6 312.2 261.0 312.1 261.4 311.9 261.8 311.9 262.2 311.8 262.6 311.8 263.0 311.8 263.4 311.7 263.8 310.0 264.2 310.0 264.6 310.5 265.0 311.0 265.4 310.2 265.8 310.6 266.2 310.4 266.6 310.6 267.0 310.1 267.4 309.9 267.8 310.3 268.2 309.6 268.6 309.8 269.0 310.0 269.4 309.9 269.8 309.4 270.2 309.2 270.6 309.0 271.0 306.8 271.4 307.7 271.8 307.6 272.2 308.1 272.6 308.2 273.0 307.5 273.4 307.7 273.8 307.4 274.2 304.7 274.6 305.2 275.0 305.2 275.4 305.3 275.8 306.3 276.2 305.6 276.6 305.5 277.0 305.4 277.4 301.7 277.8 301.7 278.2 302.6 278.6 303.2 279.0 303.4 279.4 303.5 279.8 303.1 280.2 302.6 280.6 296.1 281.0 296.1 281.4 297.5 281.8 298.2 282.2 299.2 282.6 298.6 283.0 298.6 283.4 297.5 283.8 297.4 284.2 296.1 284.6 289.3 285.0 291.6 285.4 292.4 285.8 292.3 286.2 292.7 286.6 292.3 287.0 291.8 287.4 291.7 287.8 282.7 288.2 282.7 288.6 285.4 289.0 286.5 289.4 286.6 289.8 286.7 290.2 286.6 290.6 286.2 291.0 285.8 291.4 273.2 291.8 273.2 292.2 278.9 292.6 279.7 293.0 281.0 293.4 281.3 293.8 282.1 294.2 281.6 294.6 266.6 295.0 266.6 295.4 273.6 295.8 275.7 296.2 276.4 296.6 277.7 297.0 277.4 297.4 278.1 297.8 277.6 298.2 258.8 298.6 258.8 299.0 267.0 299.4 269.4 299.8 270.9 300.2 272.0 300.6 272.9 301.0 273.3 301.4 273.9 301.8 256.3 302.2 256.3 302.6 264.9 303.0 267.0 303.4 269.3 303.8 269.8 304.2 270.9 304.6 271.2 305.0 271.9 305.4 253.4 305.8 260.0 306.2 264.1 306.6 266.4 307.0 267.9 307.4 268.1 307.8 269.4 308.2 269.4 308.6 269.5 309.0 254.5 309.4 259.6 309.8 262.5 310.2 264.5 310.6 266.0 311.0 267.5 311.4 268.1 311.8 268.8 312.2 255.9 312.6 255.9 313.0 263.0 313.4 264.9 313.8 266.5 314.2 267.5 314.6 269.0 315.0 269.0 315.4 269.6 315.8 256.4 316.2 262.3 316.6 264.5 317.0 266.9 317.4 268.3 317.8 268.9 318.2 270.2 318.6 270.2 319.0 259.3 319.4 264.5 319.8 266.3 320.2 268.1 320.6 269.3 321.0 270.0 321.4 271.2 321.8 271.9 322.2 271.9 322.6 260.6 323.0 264.8 323.4 267.3 323.8 269.4 324.2 270.1 324.6 271.6 325.0 272.3 325.4 272.2 325.8 272.8 326.2 260.4 326.6 264.9 327.0 266.9 327.4 269.8 327.8 270.4 328.2 272.4 328.6 272.4 329.0 273.3 329.4 262.7 329.8 262.7 330.2 268.2 330.6 270.1 331.0 271.5 331.4 273.3 331.8 273.5 332.2 274.8 332.6 275.0 333.0 266.9 333.4 266.9 333.8 270.7 334.2 272.6 334.6 273.7 335.0 274.6 335.4 275.5 335.8 275.9 336.2 276.5 336.6 268.1 337.0 270.9 337.4 272.4 337.8 274.3 338.2 275.5 338.6 275.8 339.0 276.8 339.4 277.2 339.8 271.1 340.2 271.1 340.6 274.2 341.0 275.1 341.4 276.0 341.8 277.3 342.2 277.4 342.6 278.3 343.0 279.3 343.4 279.6 343.8 272.4 344.2 275.6 344.6 276.7 345.0 277.6 345.4 278.5 345.8 279.3 346.2 279.6 346.6 280.4 347.0 280.7 347.4 275.8 347.8 278.0 348.2 279.3 348.6 280.2 349.0 281.1 349.4 281.7 349.8 281.9 350.2 282.0 350.6 282.9 351.0 279.0 351.4 280.7 351.8 281.1 352.2 282.0 352.6 283.0 353.0 282.8 353.4 283.3 353.8 284.0 354.2 280.8 354.6 280.8 355.0 282.0 355.4 283.3 355.8 284.0 356.2 284.4 356.6 285.4 357.0 285.4 357.4 285.4 357.8 281.7 358.2 283.1 358.6 284.0 359.0 284.9 359.4 285.4 359.8 286.5 360.2 286.8 360.6 287.1 361.0 287.9 361.4 282.0 361.8 283.6 362.2 284.9 362.6 286.1 363.0 286.7 363.4 287.8 363.8 287.6 364.2 288.1 364.6 284.4 365.0 285.7 365.4 287.0 365.8 287.6 366.2 288.0 366.6 288.8 367.0 289.0 367.4 290.0 367.8 284.6 368.2 284.6 368.6 287.2 369.0 288.5 369.4 288.7 369.8 289.6 370.2 290.1 370.6 291.1 371.0 287.8 371.4 287.8 371.8 289.8 372.2 290.6 372.6 290.9 373.0 292.0 373.4 292.1 373.8 292.5 374.2 292.4 374.6 290.6 375.0 291.2 375.4 292.1 375.8 292.4 376.2 293.4 376.6 293.8 377.0 293.7 377.4 294.0 377.8 294.1 378.2 292.3 378.6 293.1 379.0 293.7 379.4 293.9 379.8 294.2 380.2 294.8 380.6 295.0 381.0 295.6 381.4 291.6 381.8 291.6 382.2 293.3 382.6 294.0 383.0 295.3 383.4 296.0 383.8 296.5 384.2 296.2 384.6 294.1 385.0 294.1 385.4 295.7 385.8 296.1 386.2 296.6 386.6 297.2 387.0 297.4 387.4 298.1 387.8 297.8 388.2 297.3 388.6 297.3 389.0 297.7 389.4 298.2 389.8 298.3 390.2 298.9 390.5 312.6Z" fill="#1c1a1a" stroke="#1c1a1a" stroke-width="0.3"/>
<path d="M211.8 342.1V411.4H391" fill="none" stroke="#9a9aa8" stroke-width="0.8"/>
<text x="204.0" y="357.59999999999997" font-size="6.3" fill="#222" font-family='"Liberation Sans", sans-serif' font-weight="normal" text-anchor="end" stroke="#222" stroke-width="0.2" >0.4</text>
<path d="M210.20000000000002 355.4h1.6" stroke="#999" stroke-width="0.6"/>
<text x="204.0" y="386.2" font-size="6.3" fill="#222" font-family='"Liberation Sans", sans-serif' font-weight="normal" text-anchor="end" stroke="#222" stroke-width="0.2" >0.2</text>
<path d="M210.20000000000002 384h1.6" stroke="#999" stroke-width="0.6"/>
<text x="204.0" y="413.59999999999997" font-size="6.3" fill="#222" font-family='"Liberation Sans", sans-serif' font-weight="normal" text-anchor="end" stroke="#222" stroke-width="0.2" >0.0</text>
<path d="M210.20000000000002 411.4h1.6" stroke="#999" stroke-width="0.6"/>
<text x="212.0" y="419.9" font-size="6.3" fill="#222" font-family='"Liberation Sans", sans-serif' font-weight="normal" text-anchor="middle" stroke="#222" stroke-width="0.2" >600</text>
<path d="M212.0 411.4v-1.5" stroke="#777" stroke-width="0.6"/>
<text x="237.16" y="419.9" font-size="6.3" fill="#222" font-family='"Liberation Sans", sans-serif' font-weight="normal" text-anchor="middle" stroke="#222" stroke-width="0.2" >800</text>
<path d="M237.2 411.4v-1.5" stroke="#777" stroke-width="0.6"/>
<text x="262.32" y="419.9" font-size="6.3" fill="#222" font-family='"Liberation Sans", sans-serif' font-weight="normal" text-anchor="middle" stroke="#222" stroke-width="0.2" >1000</text>
<path d="M262.3 411.4v-1.5" stroke="#777" stroke-width="0.6"/>
<text x="287.48" y="419.9" font-size="6.3" fill="#222" font-family='"Liberation Sans", sans-serif' font-weight="normal" text-anchor="middle" stroke="#222" stroke-width="0.2" >1200</text>
<path d="M287.5 411.4v-1.5" stroke="#777" stroke-width="0.6"/>
<text x="312.64" y="419.9" font-size="6.3" fill="#222" font-family='"Liberation Sans", sans-serif' font-weight="normal" text-anchor="middle" stroke="#222" stroke-width="0.2" >1400</text>
<path d="M312.6 411.4v-1.5" stroke="#777" stroke-width="0.6"/>
<text x="337.8" y="419.9" font-size="6.3" fill="#222" font-family='"Liberation Sans", sans-serif' font-weight="normal" text-anchor="middle" stroke="#222" stroke-width="0.2" >1600</text>
<path d="M337.8 411.4v-1.5" stroke="#777" stroke-width="0.6"/>
<text x="362.96000000000004" y="419.9" font-size="6.3" fill="#222" font-family='"Liberation Sans", sans-serif' font-weight="normal" text-anchor="middle" stroke="#222" stroke-width="0.2" >1800</text>
<path d="M363.0 411.4v-1.5" stroke="#777" stroke-width="0.6"/>
<path d="M224.6 411.4v-1" stroke="#777" stroke-width="0.6"/>
<path d="M249.7 411.4v-1" stroke="#777" stroke-width="0.6"/>
<path d="M274.9 411.4v-1" stroke="#777" stroke-width="0.6"/>
<path d="M300.1 411.4v-1" stroke="#777" stroke-width="0.6"/>
<path d="M325.2 411.4v-1" stroke="#777" stroke-width="0.6"/>
<path d="M350.4 411.4v-1" stroke="#777" stroke-width="0.6"/>
<path d="M375.5 411.4v-1" stroke="#777" stroke-width="0.6"/>
<path d="M211.8 411.4 211.8 410.9 212.2 411.0 212.6 411.0 213.0 410.9 213.4 411.0 213.8 411.0 214.2 410.9 214.6 411.0 215.0 410.9 215.4 411.0 215.8 410.9 216.2 411.0 216.6 410.9 217.0 410.9 217.4 410.9 217.8 410.9 218.2 410.9 218.6 411.0 219.0 410.9 219.4 410.9 219.8 411.0 220.2 411.0 220.6 410.9 221.0 410.9 221.4 410.9 221.8 410.9 222.2 410.9 222.6 410.9 223.0 410.9 223.4 410.9 223.8 411.0 224.2 410.9 224.6 411.0 225.0 410.9 225.4 410.9 225.8 410.9 226.2 411.0 226.6 410.9 227.0 410.9 227.4 411.0 227.8 411.0 228.2 411.0 228.6 411.0 229.0 410.9 229.4 411.0 229.8 411.0 230.2 411.0 230.6 410.9 231.0 410.9 231.4 411.0 231.8 411.0 232.2 410.9 232.6 411.0 233.0 410.9 233.4 411.0 233.8 411.0 234.2 410.9 234.6 411.0 235.0 411.0 235.4 410.9 235.8 411.0 236.2 411.0 236.6 411.0 237.0 410.9 237.4 410.9 237.8 411.0 238.2 411.0 238.6 411.0 239.0 410.9 239.4 411.0 239.8 411.0 240.2 411.0 240.6 411.0 241.0 411.0 241.4 411.0 241.8 411.0 242.2 411.0 242.6 410.9 243.0 410.9 243.4 411.0 243.8 410.9 244.2 411.0 244.6 411.0 245.0 410.9 245.4 410.9 245.8 411.0 246.2 410.9 246.6 411.0 247.0 411.0 247.4 410.9 247.8 410.9 248.2 410.9 248.6 411.0 249.0 410.9 249.4 410.9 249.8 411.0 250.2 410.9 250.6 410.9 251.0 410.9 251.4 410.9 251.8 411.0 252.2 411.0 252.6 410.9 253.0 411.0 253.4 411.0 253.8 410.9 254.2 411.0 254.6 411.0 255.0 411.0 255.4 410.9 255.8 411.0 256.2 411.0 256.6 411.0 257.0 411.0 257.4 410.9 257.8 411.0 258.2 411.0 258.6 411.0 259.0 411.0 259.4 411.0 259.8 411.0 260.2 410.9 260.6 410.9 261.0 410.9 261.4 411.0 261.8 411.0 262.2 410.9 262.6 411.0 263.0 411.0 263.4 411.0 263.8 411.0 264.2 410.9 264.6 410.9 265.0 411.0 265.4 411.0 265.8 411.0 266.2 411.0 266.6 411.0 267.0 410.9 267.4 411.0 267.8 410.9 268.2 410.9 268.6 411.0 269.0 411.0 269.4 410.9 269.8 411.0 270.2 411.0 270.6 411.0 271.0 410.9 271.4 411.0 271.8 410.9 272.2 410.9 272.6 410.9 273.0 411.0 273.4 411.0 273.8 411.0 274.2 411.0 274.6 410.9 275.0 410.9 275.4 411.0 275.8 411.0 276.2 410.9 276.6 411.0 277.0 410.9 277.4 410.9 277.8 411.0 278.2 411.0 278.6 410.9 279.0 411.0 279.4 411.0 279.8 411.0 280.2 411.0 280.6 410.9 281.0 411.0 281.4 410.9 281.8 410.9 282.2 410.9 282.6 411.0 283.0 411.0 283.4 410.9 283.8 410.9 284.2 411.0 284.6 409.0 285.0 410.3 285.4 410.3 285.8 410.3 286.2 410.7 286.6 410.0 287.0 410.4 287.4 410.9 287.8 410.3 288.2 410.2 288.6 410.9 289.0 410.5 289.4 410.1 289.8 411.0 290.2 410.9 290.6 410.9 291.0 411.0 291.4 410.9 291.8 410.9 292.2 410.9 292.6 410.9 293.0 410.9 293.4 410.9 293.8 411.0 294.2 411.0 294.6 411.0 295.0 411.0 295.4 410.9 295.8 411.0 296.2 411.0 296.6 411.0 297.0 411.0 297.4 411.0 297.8 411.0 298.2 411.0 298.6 411.0 299.0 411.0 299.4 411.0 299.8 410.9 300.2 411.0 300.6 411.0 301.0 410.9 301.4 410.9 301.8 411.0 302.2 411.0 302.6 410.9 303.0 411.0 303.4 411.0 303.8 411.0 304.2 411.0 304.6 411.0 305.0 411.0 305.4 411.0 305.8 410.9 306.2 410.9 306.6 411.0 307.0 411.0 307.4 410.9 307.8 411.0 308.2 411.0 308.6 411.0 309.0 411.0 309.4 410.9 309.8 410.9 310.2 411.0 310.6 410.9 311.0 411.0 311.4 410.9 311.8 410.9 312.2 410.9 312.6 411.0 313.0 411.0 313.4 411.0 313.8 411.0 314.2 411.0 314.6 411.0 315.0 410.9 315.4 411.0 315.8 411.0 316.2 410.9 316.6 410.9 317.0 411.0 317.4 410.9 317.8 410.9 318.2 411.0 318.6 411.0 319.0 410.9 319.4 410.9 319.8 411.0 320.2 411.0 320.6 410.9 321.0 411.0 321.4 411.0 321.8 409.3 322.2 409.3 322.6 410.3 323.0 409.8 323.4 410.1 323.8 410.1 324.2 410.5 324.6 410.4 325.0 410.4 325.4 410.2 325.8 410.4 326.2 410.1 326.6 410.3 327.0 410.1 327.4 410.2 327.8 410.7 328.2 410.6 328.6 410.7 329.0 410.5 329.4 410.8 329.8 409.5 330.2 409.5 330.6 410.4 331.0 410.4 331.4 410.0 331.8 410.5 332.2 410.6 332.6 410.2 333.0 410.4 333.4 410.3 333.8 410.6 334.2 410.4 334.6 410.1 335.0 410.3 335.4 410.0 335.8 410.6 336.2 410.1 336.6 410.2 337.0 410.3 337.4 410.1 337.8 409.8 338.2 409.8 338.6 410.4 339.0 410.1 339.4 410.0 339.8 410.3 340.2 410.4 340.6 410.1 341.0 410.2 341.4 410.2 341.8 410.5 342.2 410.0 342.6 410.6 343.0 410.6 343.4 410.3 343.8 410.1 344.2 410.2 344.6 410.7 345.0 410.3 345.4 410.7 345.8 410.7 346.2 410.1 346.6 410.8 347.0 410.7 347.4 410.1 347.8 410.9 348.2 410.4 348.6 410.6 349.0 410.9 349.4 410.3 349.8 410.5 350.2 410.5 350.6 410.5 351.0 410.7 351.4 410.8 351.8 410.5 352.2 410.4 352.6 410.8 353.0 410.4 353.4 410.9 353.8 410.9 354.2 411.0 354.6 410.9 355.0 411.0 355.4 411.0 355.8 410.9 356.2 411.0 356.6 411.0 357.0 411.0 357.4 410.9 357.8 411.0 358.2 411.0 358.6 411.0 359.0 410.9 359.4 411.0 359.8 411.0 360.2 410.9 360.6 411.0 361.0 411.0 361.4 410.9 361.8 410.9 362.2 410.9 362.6 411.0 363.0 411.0 363.4 411.0 363.8 411.0 364.2 411.0 364.6 410.9 365.0 410.9 365.4 411.0 365.8 411.0 366.2 410.9 366.6 410.9 367.0 410.9 367.4 411.0 367.8 410.9 368.2 410.9 368.6 410.9 369.0 411.0 369.4 410.9 369.8 410.9 370.2 411.0 370.6 411.0 371.0 411.0 371.4 411.0 371.8 410.9 372.2 411.0 372.6 411.0 373.0 410.9 373.4 411.0 373.8 411.0 374.2 411.0 374.6 411.0 375.0 410.9 375.4 410.9 375.8 410.9 376.2 411.0 376.6 410.9 377.0 411.0 377.4 410.9 377.8 410.9 378.2 410.9 378.6 411.0 379.0 411.0 379.4 410.9 379.8 411.0 380.2 410.9 380.6 410.9 381.0 410.9 381.4 410.9 381.8 410.9 382.2 411.0 382.6 411.0 383.0 410.9 383.4 410.9 383.8 409.0 384.2 409.0 384.6 409.8 385.0 410.2 385.4 410.2 385.8 410.7 386.2 410.6 386.6 410.3 387.0 410.8 387.4 410.1 387.8 410.1 388.2 410.8 388.6 410.8 389.0 410.4 389.4 410.6 389.8 410.6 390.2 410.2 390.5 411.4Z" fill="#1c1a1a" stroke="#1c1a1a" stroke-width="0.3"/>
<path d="M281.6 411.2V379.5" stroke="#444" stroke-width="1.0"/>
<path d="M281.70000000000005 411.2V397L282.5 397.5L283.40000000000003 400.5L284.00000000000006 404L285.90000000000003 406L287.40000000000003 410.5V411.2z" fill="#1c1a1a"/>
<path d="M318.0 411.2V351" stroke="#444" stroke-width="1.0"/>
<path d="M318.1 411.2V384L318.9 384.5L320.0 392.0L320.6 400L322.5 402L324.0 410.5V411.2z" fill="#1c1a1a"/>
<path d="M379.0 411.2V401.4" stroke="#444" stroke-width="1.0"/>
<path d="M379.1 411.2V403L379.9 403.5L381.2 405.25L381.8 407.5L383.7 409.5L385.2 410.5V411.2z" fill="#1c1a1a"/>
<path d="M213.6 440.2V510.6H391" fill="none" stroke="#9a9aa8" stroke-width="0.8"/>
<text x="207.6" y="442.4" font-size="6.3" fill="#222" font-family='"Liberation Sans", sans-serif' font-weight="normal" text-anchor="end" stroke="#222" stroke-width="0.2" >0.06</text>
<path d="M212.0 440.2h1.6" stroke="#999" stroke-width="0.6"/>
<text x="207.6" y="465.9" font-size="6.3" fill="#222" font-family='"Liberation Sans", sans-serif' font-weight="normal" text-anchor="end" stroke="#222" stroke-width="0.2" >0.04</text>
<path d="M212.0 463.7h1.6" stroke="#999" stroke-width="0.6"/>
<text x="207.6" y="489.3" font-size="6.3" fill="#222" font-family='"Liberation Sans", sans-serif' font-weight="normal" text-anchor="end" stroke="#222" stroke-width="0.2" >0.02</text>
<path d="M212.0 487.1h1.6" stroke="#999" stroke-width="0.6"/>
<text x="207.6" y="512.8000000000001" font-size="6.3" fill="#222" font-family='"Liberation Sans", sans-serif' font-weight="normal" text-anchor="end" stroke="#222" stroke-width="0.2" >0.00</text>
<path d="M212.0 510.6h1.6" stroke="#999" stroke-width="0.6"/>
<text x="213.3" y="519.1" font-size="6.3" fill="#222" font-family='"Liberation Sans", sans-serif' font-weight="normal" text-anchor="middle" stroke="#222" stroke-width="0.2" >600</text>
<path d="M213.3 510.6v-1.5" stroke="#777" stroke-width="0.6"/>
<text x="238.3" y="519.1" font-size="6.3" fill="#222" font-family='"Liberation Sans", sans-serif' font-weight="normal" text-anchor="middle" stroke="#222" stroke-width="0.2" >800</text>
<path d="M238.3 510.6v-1.5" stroke="#777" stroke-width="0.6"/>
<text x="263.3" y="519.1" font-size="6.3" fill="#222" font-family='"Liberation Sans", sans-serif' font-weight="normal" text-anchor="middle" stroke="#222" stroke-width="0.2" >1000</text>
<path d="M263.3 510.6v-1.5" stroke="#777" stroke-width="0.6"/>
<text x="288.3" y="519.1" font-size="6.3" fill="#222" font-family='"Liberation Sans", sans-serif' font-weight="normal" text-anchor="middle" stroke="#222" stroke-width="0.2" >1200</text>
<path d="M288.3 510.6v-1.5" stroke="#777" stroke-width="0.6"/>
<text x="313.3" y="519.1" font-size="6.3" fill="#222" font-family='"Liberation Sans", sans-serif' font-weight="normal" text-anchor="middle" stroke="#222" stroke-width="0.2" >1400</text>
<path d="M313.3 510.6v-1.5" stroke="#777" stroke-width="0.6"/>
<text x="338.3" y="519.1" font-size="6.3" fill="#222" font-family='"Liberation Sans", sans-serif' font-weight="normal" text-anchor="middle" stroke="#222" stroke-width="0.2" >1600</text>
<path d="M338.3 510.6v-1.5" stroke="#777" stroke-width="0.6"/>
<text x="363.3" y="519.1" font-size="6.3" fill="#222" font-family='"Liberation Sans", sans-serif' font-weight="normal" text-anchor="middle" stroke="#222" stroke-width="0.2" >1800</text>
<path d="M363.3 510.6v-1.5" stroke="#777" stroke-width="0.6"/>
<path d="M225.8 510.6v-1" stroke="#777" stroke-width="0.6"/>
<path d="M250.8 510.6v-1" stroke="#777" stroke-width="0.6"/>
<path d="M275.8 510.6v-1" stroke="#777" stroke-width="0.6"/>
<path d="M300.8 510.6v-1" stroke="#777" stroke-width="0.6"/>
<path d="M325.8 510.6v-1" stroke="#777" stroke-width="0.6"/>
<path d="M350.8 510.6v-1" stroke="#777" stroke-width="0.6"/>
<path d="M375.8 510.6v-1" stroke="#777" stroke-width="0.6"/>
<path d="M213.6 510.6 213.6 506.9 214.0 506.8 214.4 506.9 214.8 507.8 215.2 502.4 215.6 505.3 216.0 506.3 216.4 506.7 216.8 507.1 217.2 506.6 217.6 506.9 218.0 506.8 218.4 506.7 218.8 506.9 219.2 506.5 219.6 506.7 220.0 506.9 220.4 506.7 220.8 507.0 221.2 507.3 221.6 506.8 222.0 506.4 222.4 506.6 222.8 506.7 223.2 506.4 223.6 506.9 224.0 506.9 224.4 500.4 224.8 504.4 225.2 505.3 225.6 505.6 226.0 505.4 226.4 506.0 226.8 506.2 227.2 505.8 227.6 506.4 228.0 505.8 228.4 505.7 228.8 505.7 229.2 505.6 229.6 506.3 230.0 505.3 230.4 506.3 230.8 505.8 231.2 506.2 231.6 505.1 232.0 505.2 232.4 504.7 232.8 504.8 233.2 504.6 233.6 499.4 234.0 502.5 234.4 503.0 234.8 504.1 235.2 504.1 235.6 503.7 236.0 503.9 236.4 503.6 236.8 503.0 237.2 501.9 237.6 501.3 238.0 501.0 238.4 499.7 238.8 499.0 239.2 498.6 239.6 498.2 240.0 497.2 240.4 476.3 240.8 485.3 241.2 487.0 241.6 488.2 242.0 488.9 242.4 489.7 242.8 489.8 243.2 490.7 243.6 490.5 244.0 490.1 244.4 489.9 244.8 488.2 245.2 465.0 245.6 465.0 246.0 477.3 246.4 479.0 246.8 481.1 247.2 481.6 247.6 482.6 248.0 483.8 248.4 484.0 248.8 484.3 249.2 483.9 249.6 484.7 250.0 484.1 250.4 484.0 250.8 457.3 251.2 457.3 251.6 471.9 252.0 473.6 252.4 476.0 252.8 477.1 253.2 477.7 253.6 478.6 254.0 478.9 254.4 479.6 254.8 480.0 255.2 480.6 255.6 480.8 256.0 479.6 256.4 479.6 256.8 480.4 257.2 452.2 257.6 465.8 258.0 469.1 258.4 471.1 258.8 473.5 259.2 474.6 259.6 475.8 260.0 476.5 260.4 477.6 260.8 478.1 261.2 477.9 261.6 479.0 262.0 479.0 262.4 479.1 262.8 478.7 263.2 475.3 263.6 477.1 264.0 478.0 264.4 448.0 264.8 462.6 265.2 465.8 265.6 469.0 266.0 470.3 266.4 472.7 266.8 473.3 267.2 474.9 267.6 475.3 268.0 476.0 268.4 473.7 268.8 476.2 269.2 476.6 269.6 477.4 270.0 477.1 270.4 477.2 270.8 476.2 271.2 476.8 271.6 477.2 272.0 445.8 272.4 445.8 272.8 463.6 273.2 466.2 273.6 468.3 274.0 470.3 274.4 471.7 274.8 472.7 275.2 474.2 275.6 474.6 276.0 474.8 276.4 475.6 276.8 476.4 277.2 476.0 277.6 476.5 278.0 476.4 278.4 477.0 278.8 477.0 279.2 477.0 279.6 473.1 280.0 473.1 280.4 476.4 280.8 477.2 281.2 447.0 281.6 462.8 282.0 465.1 282.4 467.7 282.8 469.6 283.2 471.4 283.6 472.5 284.0 473.5 284.4 474.6 284.8 475.3 285.2 475.5 285.6 476.1 286.0 476.6 286.4 476.5 286.8 476.5 287.2 478.2 287.6 477.8 288.0 478.5 288.4 479.2 288.8 478.8 289.2 479.3 289.6 476.9 290.0 476.9 290.4 478.7 290.8 480.1 291.2 450.4 291.6 466.0 292.0 468.6 292.4 471.5 292.8 474.1 293.2 475.5 293.6 477.4 294.0 478.7 294.4 479.1 294.8 479.8 295.2 480.6 295.6 481.7 296.0 481.3 296.4 481.3 296.8 482.8 297.2 483.2 297.6 484.2 298.0 484.5 298.4 481.9 298.8 484.4 299.2 485.1 299.6 485.4 300.0 485.8 300.4 485.8 300.8 486.2 301.2 486.8 301.6 486.4 302.0 487.2 302.4 462.0 302.8 462.0 303.2 475.7 303.6 478.6 304.0 480.7 304.4 482.9 304.8 483.8 305.2 486.1 305.6 486.6 306.0 487.4 306.4 488.3 306.8 489.1 307.2 489.7 307.6 490.1 308.0 490.0 308.4 490.5 308.8 490.7 309.2 491.2 309.6 491.7 310.0 491.7 310.4 490.5 310.8 490.5 311.2 491.5 311.6 492.4 312.0 492.3 312.4 493.2 312.8 492.9 313.2 492.6 313.6 492.6 314.0 493.4 314.4 493.4 314.8 493.5 315.2 493.2 315.6 493.3 316.0 493.7 316.4 469.2 316.8 481.9 317.2 484.1 317.6 486.3 318.0 487.7 318.4 489.5 318.8 490.1 319.2 491.6 319.6 492.3 320.0 492.7 320.4 493.4 320.8 493.6 321.2 493.9 321.6 494.8 322.0 494.6 322.4 495.0 322.8 495.0 323.2 494.1 323.6 494.4 324.0 494.7 324.4 494.8 324.8 495.1 325.2 495.2 325.6 495.3 326.0 495.7 326.4 495.8 326.8 495.7 327.2 495.6 327.6 494.4 328.0 494.9 328.4 495.4 328.8 495.6 329.2 495.1 329.6 495.0 330.0 495.0 330.4 494.9 330.8 494.9 331.2 494.8 331.6 495.4 332.0 495.7 332.4 479.0 332.8 479.0 333.2 488.0 333.6 489.5 334.0 490.7 334.4 491.1 334.8 492.6 335.2 492.3 335.6 493.0 336.0 493.4 336.4 494.0 336.8 493.2 337.2 493.2 337.6 494.4 338.0 495.0 338.4 495.0 338.8 495.3 339.2 494.8 339.6 495.7 340.0 495.8 340.4 495.8 340.8 496.4 341.2 496.2 341.6 495.9 342.0 496.2 342.4 496.7 342.8 496.5 343.2 497.0 343.6 497.3 344.0 497.4 344.4 497.1 344.8 496.0 345.2 496.9 345.6 497.1 346.0 497.4 346.4 497.5 346.8 497.6 347.2 497.6 347.6 497.8 348.0 498.0 348.4 498.4 348.8 497.9 349.2 498.0 349.6 497.9 350.0 497.9 350.4 498.0 350.8 498.1 351.2 497.9 351.6 496.9 352.0 486.1 352.4 486.1 352.8 492.4 353.2 493.7 353.6 494.6 354.0 495.6 354.4 496.2 354.8 496.9 355.2 497.4 355.6 497.1 356.0 497.8 356.4 497.4 356.8 497.4 357.2 498.7 357.6 498.3 358.0 498.5 358.4 498.6 358.8 498.8 359.2 498.9 359.6 498.7 360.0 498.9 360.4 499.3 360.8 498.9 361.2 498.9 361.6 499.1 362.0 499.3 362.4 499.9 362.8 499.8 363.2 499.6 363.6 499.1 364.0 499.4 364.4 499.5 364.8 500.2 365.2 500.7 365.6 500.0 366.0 499.8 366.4 500.5 366.8 500.9 367.2 501.0 367.6 500.8 368.0 500.7 368.4 500.5 368.8 501.0 369.2 501.1 369.6 501.2 370.0 501.3 370.4 501.3 370.8 502.0 371.2 501.6 371.6 501.7 372.0 501.7 372.4 501.3 372.8 501.3 373.2 502.0 373.6 501.7 374.0 502.4 374.4 502.1 374.8 502.2 375.2 493.7 375.6 493.7 376.0 498.7 376.4 500.0 376.8 500.5 377.2 500.8 377.6 501.0 378.0 502.4 378.4 501.9 378.8 489.2 379.2 496.4 379.6 497.5 380.0 499.1 380.4 500.0 380.8 501.0 381.2 501.7 381.6 502.7 382.0 502.8 382.4 502.8 382.8 503.8 383.2 503.2 383.6 504.0 384.0 504.3 384.4 504.0 384.8 504.1 385.2 504.3 385.6 504.5 386.0 504.2 386.4 504.3 386.8 505.0 387.2 504.9 387.6 504.8 388.0 504.5 388.4 505.5 388.8 505.2 389.2 505.1 389.6 505.1 390.0 504.9 390.4 505.6 390.5 510.6Z" fill="#1c1a1a" stroke="#1c1a1a" stroke-width="0.3"/>
</svg></body></html>
